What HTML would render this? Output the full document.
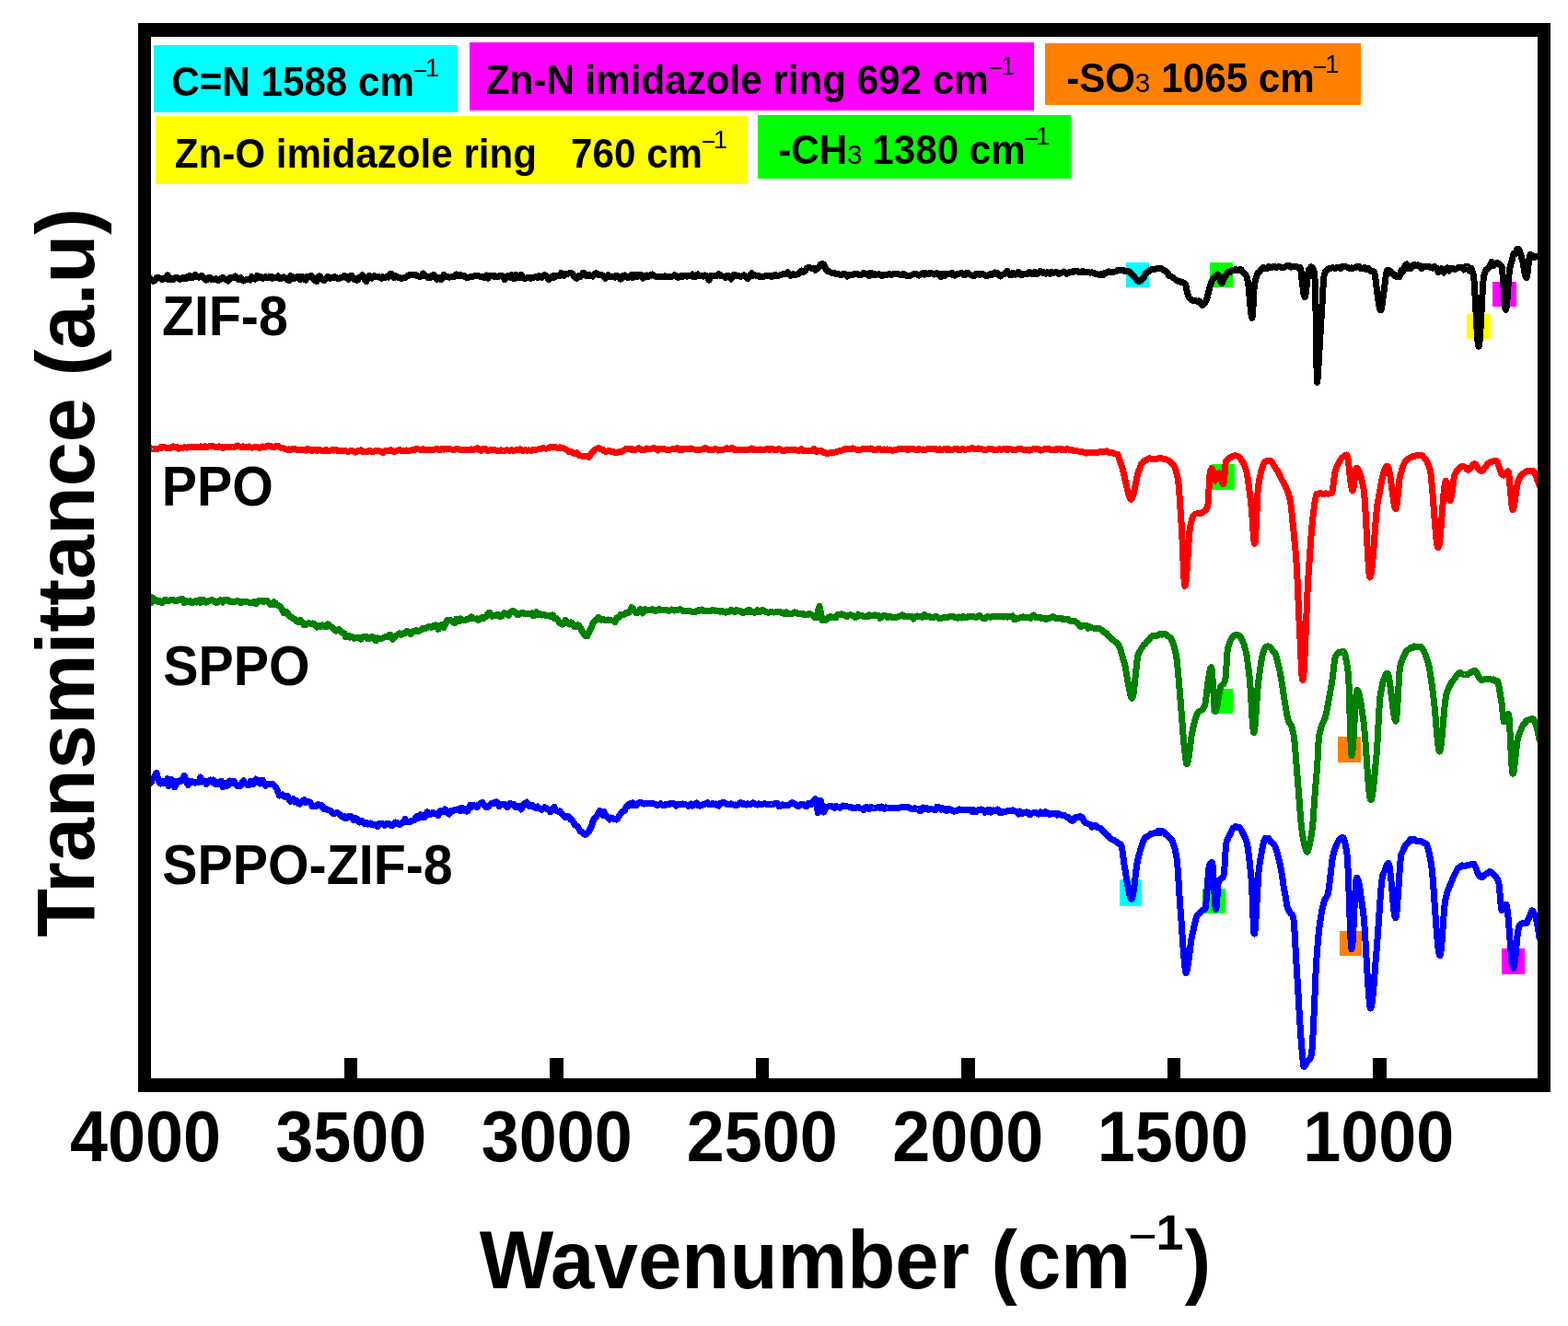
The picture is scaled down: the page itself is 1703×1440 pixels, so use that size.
<!DOCTYPE html>
<html><head><meta charset="utf-8"><title>FTIR spectra</title>
<style>
html,body{margin:0;padding:0;background:#fff;}
body{width:1703px;height:1440px;overflow:hidden;}
svg{display:block;}
rect{shape-rendering:crispEdges;}
text{font-family:'Liberation Sans', sans-serif;font-weight:bold;fill:#000;}
.sup{font-weight:normal;}
</style></head><body>
<svg width="1703" height="1440" viewBox="0 0 1703 1440">
<rect width="1703" height="1440" fill="#fff"/>
<defs><clipPath id="pa"><rect x="164" y="40" width="1506" height="1131"/></clipPath></defs>
<!-- legend boxes -->
<rect x="167" y="49" width="330" height="73" fill="#00FFFF"/>
<rect x="510" y="46" width="613" height="74" fill="#FF00FF"/>
<rect x="1135" y="47" width="343" height="67" fill="#FF8000"/>
<rect x="169" y="126" width="643" height="74" fill="#FFFF00"/>
<rect x="823" y="125" width="340" height="69" fill="#00FF00"/>
<text transform="translate(186.31,104.00) scale(0.9370,1)" font-size="45">C=N 1588 cm</text><text transform="translate(448.65,85.79) scale(1.0000,1)" font-size="27.0" style="font-weight:normal">&#8722;</text><text transform="translate(462.05,82.90) scale(1.0000,1)" font-size="27.3" style="font-weight:normal">1</text><text transform="translate(527.84,101.90) scale(0.9370,1)" font-size="45">Zn-N imidazole ring 692 cm</text><text transform="translate(1073.65,82.84) scale(1.0000,1)" font-size="27.0" style="font-weight:normal">&#8722;</text><text transform="translate(1087.05,80.90) scale(1.0000,1)" font-size="27.3" style="font-weight:normal">1</text><text transform="translate(1158.21,99.80) scale(0.9370,1)" font-size="45">-SO</text><text transform="translate(1232.79,99.60) scale(1.0000,1)" font-size="29.7" style="font-weight:normal">3</text><text transform="translate(1261.36,99.80) scale(0.9370,1)" font-size="45">1065 cm</text><text transform="translate(1425.65,81.84) scale(1.0000,1)" font-size="27.0" style="font-weight:normal">&#8722;</text><text transform="translate(1439.15,78.90) scale(1.0000,1)" font-size="27.3" style="font-weight:normal">1</text><text transform="translate(189.64,182.00) scale(0.9370,1)" font-size="45">Zn-O imidazole ring</text><text transform="translate(620.11,181.80) scale(0.9370,1)" font-size="45">760 cm</text><text transform="translate(761.65,162.69) scale(1.0000,1)" font-size="27.0" style="font-weight:normal">&#8722;</text><text transform="translate(775.05,160.80) scale(1.0000,1)" font-size="27.3" style="font-weight:normal">1</text><text transform="translate(845.31,177.90) scale(0.9370,1)" font-size="45">-CH</text><text transform="translate(919.89,177.60) scale(1.0000,1)" font-size="29.7" style="font-weight:normal">3</text><text transform="translate(947.36,177.90) scale(0.9370,1)" font-size="45">1380 cm</text><text transform="translate(1112.65,159.94) scale(1.0000,1)" font-size="27.0" style="font-weight:normal">&#8722;</text><text transform="translate(1125.05,156.80) scale(1.0000,1)" font-size="27.3" style="font-weight:normal">1</text>
<!-- markers -->
<rect x="1223" y="285" width="25" height="27" fill="#00FFFF"/><rect x="1314" y="285" width="25" height="27" fill="#00FF00"/><rect x="1593" y="341" width="26" height="27" fill="#FFFF00"/><rect x="1621" y="306" width="26" height="27" fill="#FF00FF"/><rect x="1316" y="504" width="25" height="28" fill="#00FF00"/><rect x="1315" y="748" width="24" height="27" fill="#00FF00"/><rect x="1453" y="800" width="25" height="28" fill="#FF8000"/><rect x="1216" y="955" width="24" height="29" fill="#00FFFF"/><rect x="1306" y="965" width="25" height="27" fill="#00FF00"/><rect x="1455" y="1011" width="24" height="27" fill="#FF8000"/><rect x="1631" y="1030" width="25" height="28" fill="#FF00FF"/>
<!-- curves -->
<g clip-path="url(#pa)" shape-rendering="crispEdges" fill="none" stroke-width="7" stroke-linejoin="round" stroke-linecap="round">
<polyline stroke="#000000" points="164.0,303.1 165.5,304.9 167.0,305.3 168.5,304.3 170.0,301.8 171.5,302.0 173.0,301.8 174.5,302.1 176.0,303.6 177.5,302.6 179.0,303.0 180.5,302.5 182.0,298.8 183.5,303.6 185.0,303.6 186.5,302.4 188.0,303.4 189.5,302.2 191.0,301.6 192.5,301.7 194.0,302.9 195.5,303.4 197.0,302.6 198.5,301.6 200.0,301.7 201.5,302.9 203.0,301.8 204.5,300.1 206.0,299.2 207.5,301.9 209.0,301.8 210.5,300.2 212.0,298.5 213.5,300.1 215.0,301.0 216.5,301.0 218.0,300.0 219.5,299.6 221.0,301.0 222.5,302.9 224.0,304.2 225.5,302.6 227.0,301.6 228.5,301.7 230.0,303.4 231.5,303.9 233.0,303.1 234.5,302.6 236.0,303.8 237.5,304.6 239.0,303.7 240.5,302.2 242.0,301.4 243.5,303.1 245.0,303.5 246.5,303.9 248.0,305.1 249.5,301.7 251.0,301.1 252.5,301.6 254.0,301.4 255.5,300.1 257.0,301.4 258.5,303.3 260.0,303.8 261.5,301.9 263.0,303.3 264.5,305.0 266.0,304.1 267.5,303.7 269.0,303.3 270.5,303.3 272.0,304.0 273.5,300.6 275.0,301.3 276.5,303.1 278.0,303.0 279.5,299.5 281.0,300.3 282.5,301.9 284.0,301.0 285.5,302.4 287.0,301.7 288.5,300.6 290.0,301.2 291.5,301.6 293.0,300.6 294.5,300.1 296.0,302.2 297.5,301.1 299.0,301.4 300.5,301.5 302.0,300.0 303.5,302.3 305.0,302.6 306.5,301.8 308.0,300.7 309.5,301.9 311.0,302.9 312.5,303.8 314.0,304.6 315.5,299.8 317.0,300.6 318.5,302.8 320.0,302.2 321.5,301.5 323.0,300.4 324.5,300.6 326.0,303.9 327.5,300.4 329.0,301.0 330.5,303.1 332.0,304.2 333.5,300.1 335.0,300.0 336.5,300.8 338.0,299.4 339.5,301.6 341.0,303.6 342.5,305.1 344.0,305.8 345.5,300.4 347.0,299.8 348.5,301.5 350.0,303.3 351.5,304.6 353.0,303.9 354.5,302.2 356.0,300.6 357.5,302.0 359.0,302.2 360.5,301.8 362.0,301.5 363.5,300.7 365.0,301.5 366.5,302.5 368.0,302.4 369.5,301.8 371.0,301.4 372.5,300.8 374.0,299.2 375.5,300.3 377.0,302.3 378.5,303.2 380.0,301.1 381.5,299.3 383.0,301.3 384.5,303.5 386.0,302.3 387.5,304.6 389.0,303.3 390.5,301.1 392.0,300.3 393.5,298.9 395.0,301.0 396.5,304.2 398.0,305.9 399.5,301.1 401.0,299.6 402.5,300.3 404.0,302.0 405.5,300.0 407.0,299.8 408.5,300.3 410.0,300.1 411.5,300.8 413.0,301.9 414.5,302.2 416.0,300.7 417.5,301.9 419.0,301.0 420.5,300.0 422.0,301.1 423.5,297.5 425.0,297.0 426.5,298.6 428.0,301.8 429.5,299.8 431.0,300.2 432.5,301.3 434.0,301.2 435.5,302.3 437.0,302.1 438.5,301.7 440.0,302.0 441.5,300.4 443.0,299.3 444.5,298.7 446.0,298.6 447.5,299.0 449.0,298.5 450.5,298.1 452.0,299.0 453.5,299.6 455.0,300.2 456.5,300.2 458.0,299.4 459.5,297.1 461.0,298.1 462.5,300.0 464.0,300.4 465.5,301.7 467.0,301.6 468.5,300.5 470.0,298.8 471.5,298.7 473.0,301.2 474.5,303.2 476.0,301.4 477.5,303.0 479.0,303.8 480.5,302.6 482.0,298.4 483.5,300.2 485.0,300.8 486.5,300.9 488.0,301.1 489.5,301.0 491.0,300.7 492.5,300.4 494.0,300.3 495.5,297.9 497.0,298.4 498.5,299.4 500.0,298.6 501.5,299.8 503.0,299.7 504.5,299.6 506.0,301.2 507.5,301.5 509.0,301.1 510.5,300.7 512.0,300.7 513.5,300.4 515.0,299.8 516.5,299.5 518.0,299.9 519.5,299.5 521.0,300.2 522.5,300.9 524.0,300.4 525.5,301.2 527.0,299.7 528.5,299.0 530.0,302.2 531.5,299.9 533.0,299.2 534.5,299.5 536.0,300.3 537.5,299.8 539.0,300.5 540.5,300.9 542.0,299.7 543.5,299.0 545.0,299.0 546.5,300.3 548.0,303.4 549.5,301.6 551.0,299.9 552.5,299.3 554.0,301.0 555.5,298.8 557.0,301.2 558.5,302.8 560.0,298.1 561.5,301.0 563.0,302.0 564.5,301.1 566.0,298.2 567.5,300.7 569.0,302.2 570.5,302.5 572.0,301.8 573.5,301.4 575.0,302.0 576.5,302.2 578.0,301.0 579.5,301.3 581.0,300.9 582.5,300.7 584.0,301.8 585.5,299.5 587.0,300.3 588.5,301.3 590.0,299.4 591.5,298.5 593.0,299.6 594.5,301.5 596.0,303.4 597.5,302.3 599.0,300.5 600.5,299.6 602.0,301.3 603.5,299.6 605.0,299.3 606.5,299.6 608.0,299.9 609.5,296.4 611.0,297.6 612.5,299.3 614.0,297.5 615.5,298.0 617.0,297.3 618.5,296.5 620.0,296.4 621.5,297.2 623.0,299.1 624.5,301.2 626.0,302.3 627.5,299.9 629.0,300.1 630.5,300.5 632.0,298.6 633.5,296.2 635.0,297.3 636.5,299.4 638.0,299.9 639.5,298.6 641.0,298.9 642.5,299.7 644.0,300.1 645.5,298.1 647.0,296.8 648.5,296.8 650.0,298.6 651.5,298.7 653.0,298.5 654.5,299.1 656.0,301.0 657.5,302.1 659.0,300.4 660.5,298.9 662.0,300.5 663.5,300.9 665.0,300.8 666.5,300.8 668.0,301.3 669.5,299.3 671.0,299.7 672.5,301.4 674.0,303.2 675.5,301.5 677.0,299.6 678.5,298.9 680.0,300.7 681.5,301.6 683.0,301.1 684.5,299.8 686.0,298.5 687.5,301.6 689.0,299.9 690.5,298.2 692.0,300.7 693.5,300.0 695.0,298.6 696.5,298.7 698.0,302.1 699.5,300.7 701.0,299.4 702.5,299.0 704.0,300.6 705.5,299.7 707.0,298.5 708.5,298.0 710.0,299.1 711.5,300.0 713.0,300.5 714.5,300.6 716.0,300.2 717.5,300.1 719.0,300.3 720.5,300.4 722.0,299.7 723.5,301.0 725.0,300.8 726.5,300.2 728.0,300.3 729.5,300.6 731.0,299.7 732.5,298.8 734.0,299.1 735.5,301.1 737.0,301.1 738.5,300.2 740.0,299.6 741.5,300.2 743.0,299.9 744.5,299.6 746.0,300.3 747.5,299.4 749.0,299.7 750.5,299.7 752.0,298.0 753.5,300.7 755.0,300.4 756.5,299.0 758.0,298.0 759.5,299.2 761.0,299.5 762.5,299.6 764.0,300.1 765.5,298.9 767.0,299.4 768.5,301.3 770.0,304.2 771.5,299.8 773.0,299.3 774.5,300.0 776.0,299.4 777.5,299.9 779.0,298.8 780.5,297.8 782.0,298.4 783.5,299.8 785.0,300.0 786.5,300.2 788.0,301.7 789.5,299.5 791.0,299.4 792.5,300.7 794.0,303.1 795.5,299.8 797.0,298.6 798.5,298.8 800.0,299.5 801.5,299.5 803.0,300.0 804.5,300.3 806.0,299.7 807.5,298.9 809.0,299.1 810.5,300.4 812.0,302.6 813.5,301.4 815.0,298.5 816.5,296.8 818.0,299.2 819.5,298.5 821.0,299.2 822.5,299.8 824.0,299.1 825.5,300.9 827.0,300.9 828.5,300.3 830.0,300.2 831.5,299.6 833.0,299.2 834.5,299.2 836.0,299.5 837.5,300.3 839.0,300.1 840.5,299.4 842.0,298.5 843.5,300.0 845.0,299.8 846.5,299.0 848.0,298.7 849.5,298.0 851.0,297.8 852.5,297.8 854.0,297.7 855.5,295.6 857.0,297.2 858.5,299.2 860.0,298.6 861.5,297.7 863.0,298.1 864.5,298.4 866.0,297.7 867.5,297.3 869.0,295.3 870.5,294.0 872.0,295.7 873.5,295.0 875.0,293.1 876.5,291.2 878.0,290.2 879.5,290.8 881.0,291.2 882.5,291.4 884.0,291.4 885.5,293.2 887.0,292.3 888.5,290.8 890.0,289.8 891.5,287.0 893.0,286.1 894.5,287.3 896.0,289.1 897.5,293.6 899.0,294.4 900.5,294.6 902.0,295.9 903.5,296.4 905.0,296.5 906.5,296.6 908.0,297.4 909.5,297.3 911.0,297.9 912.5,298.5 914.0,298.4 915.5,297.6 917.0,297.3 918.5,298.0 920.0,300.1 921.5,298.4 923.0,298.5 924.5,299.0 926.0,298.5 927.5,297.6 929.0,297.2 930.5,297.4 932.0,298.1 933.5,298.3 935.0,298.5 936.5,298.2 938.0,296.5 939.5,297.1 941.0,297.6 942.5,298.4 944.0,299.9 945.5,296.4 947.0,296.8 948.5,298.2 950.0,297.4 951.5,298.2 953.0,298.0 954.5,297.7 956.0,298.4 957.5,299.5 959.0,299.2 960.5,298.4 962.0,298.5 963.5,298.5 965.0,297.8 966.5,297.5 968.0,298.7 969.5,298.0 971.0,297.4 972.5,297.3 974.0,298.0 975.5,297.8 977.0,298.3 978.5,298.7 980.0,297.9 981.5,297.5 983.0,298.6 984.5,299.6 986.0,299.2 987.5,299.4 989.0,299.1 990.5,298.5 992.0,297.9 993.5,297.6 995.0,297.6 996.5,298.0 998.0,299.1 999.5,298.4 1001.0,297.2 1002.5,296.7 1004.0,298.0 1005.5,296.7 1007.0,297.2 1008.5,297.8 1010.0,296.6 1011.5,296.5 1013.0,297.3 1014.5,298.1 1016.0,297.9 1017.5,296.5 1019.0,297.5 1020.5,299.3 1022.0,300.6 1023.5,297.3 1025.0,298.2 1026.5,299.4 1028.0,297.2 1029.5,297.3 1031.0,297.6 1032.5,297.4 1034.0,296.3 1035.5,298.7 1037.0,299.1 1038.5,298.2 1040.0,297.1 1041.5,297.5 1043.0,296.9 1044.5,296.5 1046.0,297.6 1047.5,298.7 1049.0,297.5 1050.5,296.3 1052.0,297.4 1053.5,298.0 1055.0,298.7 1056.5,299.3 1058.0,299.6 1059.5,297.9 1061.0,297.2 1062.5,297.4 1064.0,298.4 1065.5,297.7 1067.0,297.5 1068.5,297.9 1070.0,299.1 1071.5,299.7 1073.0,299.0 1074.5,298.0 1076.0,297.5 1077.5,298.2 1079.0,296.9 1080.5,296.0 1082.0,297.7 1083.5,296.7 1085.0,298.4 1086.5,300.0 1088.0,298.5 1089.5,297.9 1091.0,297.5 1092.5,296.6 1094.0,294.5 1095.5,297.4 1097.0,298.9 1098.5,298.7 1100.0,296.5 1101.5,297.8 1103.0,298.2 1104.5,297.5 1106.0,295.4 1107.5,297.6 1109.0,298.6 1110.5,298.5 1112.0,297.4 1113.5,297.1 1115.0,297.5 1116.5,297.3 1118.0,295.2 1119.5,296.6 1121.0,297.7 1122.5,297.5 1124.0,295.4 1125.5,297.4 1127.0,297.2 1128.5,295.8 1130.0,294.3 1131.5,296.0 1133.0,296.0 1134.5,295.9 1136.0,297.0 1137.5,295.6 1139.0,296.5 1140.5,297.2 1142.0,295.6 1143.5,296.5 1145.0,296.2 1146.5,295.7 1148.0,295.9 1149.5,297.2 1151.0,297.1 1152.5,296.3 1154.0,295.7 1155.5,294.9 1157.0,296.0 1158.5,297.3 1160.0,296.8 1161.5,295.8 1163.0,295.8 1164.5,295.7 1166.0,294.4 1167.5,294.3 1169.0,294.4 1170.5,294.7 1172.0,295.7 1173.5,295.6 1175.0,295.1 1176.0,294.6 1176.5,294.8 1177.0,295.0 1177.5,295.3 1178.0,295.5 1178.5,295.5 1179.0,295.5 1179.5,295.5 1180.0,295.5 1180.5,295.4 1181.0,295.3 1181.5,295.3 1182.0,295.2 1182.5,295.5 1183.0,295.7 1183.5,295.9 1184.0,296.1 1184.5,296.1 1185.0,296.0 1185.5,295.9 1186.0,295.9 1186.5,296.1 1187.0,296.2 1187.5,296.4 1188.0,296.6 1188.5,296.8 1189.0,297.1 1189.5,297.3 1190.0,297.5 1190.5,297.6 1191.0,297.6 1191.5,297.6 1192.0,297.7 1192.5,297.9 1193.0,298.1 1193.5,298.3 1194.0,298.4 1194.5,298.2 1195.0,297.9 1195.5,297.5 1196.0,297.2 1196.5,297.5 1197.0,297.9 1197.5,298.2 1198.0,298.5 1198.5,298.0 1199.0,297.5 1199.5,297.1 1200.0,296.6 1200.5,296.5 1201.0,296.4 1201.5,296.3 1202.0,296.3 1202.5,295.9 1203.0,295.5 1203.5,295.2 1204.0,294.8 1204.5,294.9 1205.0,295.1 1205.5,295.2 1206.0,295.4 1206.5,295.4 1207.0,295.3 1207.5,295.3 1208.0,295.4 1208.5,295.3 1209.0,295.2 1209.5,295.1 1210.0,295.1 1210.5,295.0 1211.0,295.0 1211.5,294.9 1212.0,294.8 1212.5,294.5 1213.0,294.1 1213.5,293.7 1214.0,293.3 1214.5,293.4 1215.0,293.5 1215.5,293.6 1216.0,293.7 1216.5,293.7 1217.0,293.7 1217.5,293.8 1218.0,293.8 1218.5,293.7 1219.0,293.6 1219.5,293.6 1220.0,293.5 1220.5,293.8 1221.0,294.1 1221.5,294.4 1222.0,294.7 1222.5,294.5 1223.0,294.4 1223.5,294.3 1224.0,294.1 1224.5,294.1 1225.0,294.2 1225.5,294.4 1226.0,294.7 1226.5,295.1 1227.0,295.6 1227.5,296.2 1228.0,296.8 1228.5,297.1 1229.0,297.5 1229.5,297.9 1230.0,298.3 1230.5,298.9 1231.0,299.6 1231.5,300.2 1232.0,300.8 1232.5,301.4 1233.0,302.0 1233.5,302.5 1234.0,303.0 1234.5,303.6 1235.0,304.2 1235.5,304.7 1236.0,305.1 1236.5,305.2 1237.0,305.3 1237.5,305.2 1238.0,305.0 1238.5,304.8 1239.0,304.5 1239.5,304.1 1240.0,303.7 1240.5,303.3 1241.0,302.8 1241.5,302.2 1242.0,301.7 1242.5,300.7 1243.0,299.7 1243.5,298.6 1244.0,297.6 1244.5,297.1 1245.0,296.6 1245.5,296.2 1246.0,295.8 1246.5,295.5 1247.0,295.2 1247.5,295.0 1248.0,294.8 1248.5,294.3 1249.0,293.8 1249.5,293.3 1250.0,292.8 1250.5,292.7 1251.0,292.6 1251.5,292.4 1252.0,292.3 1252.5,292.3 1253.0,292.3 1253.5,292.4 1254.0,292.4 1254.5,292.2 1255.0,292.1 1255.5,292.0 1256.0,291.9 1256.5,291.8 1257.0,291.7 1257.5,291.7 1258.0,291.6 1258.5,291.5 1259.0,291.4 1259.5,291.4 1260.0,291.3 1260.5,291.5 1261.0,291.6 1261.5,291.8 1262.0,292.0 1262.5,292.5 1263.0,292.9 1263.5,293.4 1264.0,293.9 1264.5,294.0 1265.0,294.1 1265.5,294.3 1266.0,294.4 1266.5,294.8 1267.0,295.3 1267.5,295.9 1268.0,296.5 1268.5,297.2 1269.0,298.0 1269.5,298.7 1270.0,299.4 1270.5,299.7 1271.0,299.9 1271.5,300.0 1272.0,300.2 1272.5,300.5 1273.0,300.8 1273.5,301.1 1274.0,301.4 1274.5,301.8 1275.0,302.2 1275.5,302.6 1276.0,303.0 1276.5,303.4 1277.0,303.8 1277.5,304.2 1278.0,304.6 1278.5,304.8 1279.0,305.1 1279.5,305.2 1280.0,305.4 1280.5,305.6 1281.0,305.7 1281.5,305.8 1282.0,305.9 1282.5,306.2 1283.0,306.4 1283.5,306.7 1284.0,307.0 1284.5,307.0 1285.0,306.9 1285.5,307.0 1286.0,307.0 1286.5,307.6 1287.0,308.2 1287.5,308.9 1288.0,310.3 1288.5,312.8 1289.0,315.6 1289.5,317.9 1290.0,319.9 1290.5,321.5 1291.0,322.8 1291.5,323.6 1292.0,324.0 1292.5,324.5 1293.0,324.8 1293.5,325.2 1294.0,325.4 1294.5,325.7 1295.0,326.0 1295.5,326.2 1296.0,326.3 1296.5,326.4 1297.0,326.5 1297.5,326.6 1298.0,326.6 1298.5,326.8 1299.0,326.9 1299.5,327.1 1300.0,327.2 1300.5,327.1 1301.0,327.0 1301.5,326.9 1302.0,326.9 1302.5,327.3 1303.0,327.9 1303.5,328.6 1304.0,329.3 1304.5,330.1 1305.0,330.8 1305.5,331.2 1306.0,331.5 1306.5,331.1 1307.0,330.5 1307.5,329.8 1308.0,329.1 1308.5,328.7 1309.0,328.3 1309.5,327.7 1310.0,326.8 1310.5,325.2 1311.0,323.4 1311.5,321.5 1312.0,319.6 1312.5,317.6 1313.0,315.8 1313.5,313.9 1314.0,311.8 1314.5,310.1 1315.0,308.4 1315.5,306.9 1316.0,305.7 1316.5,304.6 1317.0,303.6 1317.5,302.8 1318.0,302.0 1318.5,301.6 1319.0,301.4 1319.5,301.1 1320.0,300.9 1320.5,300.2 1321.0,299.5 1321.5,298.8 1322.0,298.1 1322.5,298.0 1323.0,298.2 1323.5,298.4 1324.0,299.3 1324.5,300.7 1325.0,302.5 1325.5,304.5 1326.0,306.4 1326.5,307.4 1327.0,307.6 1327.5,306.8 1328.0,305.4 1328.5,304.4 1329.0,303.2 1329.5,302.0 1330.0,301.1 1330.5,300.2 1331.0,299.6 1331.5,299.1 1332.0,298.6 1332.5,297.7 1333.0,296.9 1333.5,296.2 1334.0,295.5 1334.5,295.5 1335.0,295.5 1335.5,295.5 1336.0,295.6 1336.5,294.9 1337.0,294.3 1337.5,293.6 1338.0,293.0 1338.5,293.2 1339.0,293.3 1339.5,293.5 1340.0,293.7 1340.5,293.3 1341.0,292.9 1341.5,292.6 1342.0,292.3 1342.5,292.6 1343.0,293.0 1343.5,293.3 1344.0,293.7 1344.5,293.4 1345.0,293.2 1345.5,292.9 1346.0,292.7 1346.5,292.7 1347.0,292.7 1347.5,292.7 1348.0,292.8 1348.5,293.4 1349.0,294.0 1349.5,294.7 1350.0,295.4 1350.5,295.9 1351.0,296.5 1351.5,297.0 1352.0,297.7 1352.5,298.0 1353.0,298.5 1353.5,299.3 1354.0,300.3 1354.5,302.1 1355.0,304.1 1355.5,306.9 1356.0,311.1 1356.5,316.0 1357.0,321.4 1357.5,327.1 1358.0,332.7 1358.5,337.7 1359.0,341.7 1359.5,344.4 1360.0,345.3 1360.5,342.0 1361.0,333.7 1361.5,323.3 1362.0,314.0 1362.5,308.5 1363.0,306.2 1363.5,304.3 1364.0,302.8 1364.5,301.0 1365.0,299.4 1365.5,298.0 1366.0,296.8 1366.5,296.3 1367.0,295.8 1367.5,295.4 1368.0,295.1 1368.5,294.5 1369.0,293.9 1369.5,293.3 1370.0,292.9 1370.5,292.2 1371.0,291.6 1371.5,291.0 1372.0,290.5 1372.5,290.7 1373.0,291.0 1373.5,291.3 1374.0,291.6 1374.5,291.5 1375.0,291.5 1375.5,291.4 1376.0,291.4 1376.5,290.9 1377.0,290.4 1377.5,289.9 1378.0,289.4 1378.5,289.8 1379.0,290.2 1379.5,290.6 1380.0,290.9 1380.5,290.7 1381.0,290.4 1381.5,290.1 1382.0,289.8 1382.5,289.8 1383.0,289.7 1383.5,289.7 1384.0,289.6 1384.5,289.8 1385.0,290.1 1385.5,290.3 1386.0,290.5 1386.5,290.3 1387.0,290.1 1387.5,289.9 1388.0,289.7 1388.5,289.7 1389.0,289.7 1389.5,289.7 1390.0,289.7 1390.5,289.9 1391.0,290.0 1391.5,290.2 1392.0,290.4 1392.5,290.3 1393.0,290.3 1393.5,290.3 1394.0,290.2 1394.5,290.1 1395.0,290.1 1395.5,290.0 1396.0,290.0 1396.5,289.6 1397.0,289.3 1397.5,288.9 1398.0,288.6 1398.5,288.5 1399.0,288.5 1399.5,288.5 1400.0,288.5 1400.5,288.9 1401.0,289.3 1401.5,289.7 1402.0,290.1 1402.5,289.8 1403.0,289.5 1403.5,289.3 1404.0,289.0 1404.5,289.2 1405.0,289.4 1405.5,289.6 1406.0,289.8 1406.5,289.7 1407.0,289.6 1407.5,289.5 1408.0,289.4 1408.5,289.6 1409.0,289.9 1409.5,290.1 1410.0,290.4 1410.5,290.3 1411.0,290.3 1411.5,290.3 1412.0,290.2 1412.5,291.7 1413.0,294.6 1413.5,298.7 1414.0,303.5 1414.5,307.8 1415.0,312.1 1415.5,316.0 1416.0,319.1 1416.5,321.6 1417.0,322.7 1417.5,321.9 1418.0,319.8 1418.5,316.3 1419.0,312.2 1419.5,307.6 1420.0,303.0 1420.5,299.0 1421.0,295.6 1421.5,293.3 1422.0,292.3 1422.5,291.6 1423.0,291.0 1423.5,290.4 1424.0,289.8 1424.5,289.9 1425.0,290.1 1425.5,290.5 1426.0,291.4 1426.5,292.5 1427.0,294.0 1427.5,295.9 1428.0,303.1 1428.5,318.2 1429.0,337.8 1429.5,361.3 1430.0,399.6 1430.5,415.2 1431.0,412.2 1431.5,405.8 1432.0,397.5 1432.5,388.4 1433.0,380.0 1433.5,372.1 1434.0,363.7 1434.5,355.2 1435.0,346.6 1435.5,338.2 1436.0,330.1 1436.5,321.3 1437.0,312.1 1437.5,304.3 1438.0,299.8 1438.5,297.9 1439.0,296.4 1439.5,295.3 1440.0,294.4 1440.5,293.6 1441.0,293.1 1441.5,292.8 1442.0,292.4 1442.5,292.1 1443.0,291.8 1443.5,291.5 1444.0,291.2 1444.5,291.2 1445.0,291.1 1445.5,291.1 1446.0,291.0 1446.5,291.0 1447.0,290.9 1447.5,290.9 1448.0,290.9 1448.5,291.1 1449.0,291.3 1449.5,291.6 1450.0,291.9 1450.5,291.4 1451.0,291.0 1451.5,290.6 1452.0,290.2 1452.5,290.3 1453.0,290.4 1453.5,290.6 1454.0,290.7 1454.5,290.9 1455.0,291.0 1455.5,291.2 1456.0,291.4 1456.5,290.8 1457.0,290.3 1457.5,289.8 1458.0,289.3 1458.5,289.3 1459.0,289.4 1459.5,289.4 1460.0,289.5 1460.5,289.5 1461.0,289.6 1461.5,289.7 1462.0,289.8 1462.5,289.9 1463.0,290.1 1463.5,290.3 1464.0,290.4 1464.5,290.8 1465.0,291.2 1465.5,291.6 1466.0,292.0 1466.5,291.7 1467.0,291.3 1467.5,291.0 1468.0,290.7 1468.5,290.9 1469.0,291.0 1469.5,291.1 1470.0,291.2 1470.5,291.0 1471.0,290.8 1471.5,290.6 1472.0,290.4 1472.5,290.0 1473.0,289.7 1473.5,289.4 1474.0,289.0 1474.5,289.1 1475.0,289.1 1475.5,289.2 1476.0,289.2 1476.5,289.7 1477.0,290.3 1477.5,290.8 1478.0,291.4 1478.5,291.3 1479.0,291.3 1479.5,291.2 1480.0,291.2 1480.5,291.0 1481.0,290.9 1481.5,290.8 1482.0,290.6 1482.5,291.1 1483.0,291.6 1483.5,292.1 1484.0,292.6 1484.5,292.3 1485.0,292.1 1485.5,291.8 1486.0,291.6 1486.5,292.2 1487.0,292.7 1487.5,293.3 1488.0,293.9 1488.5,294.2 1489.0,294.4 1489.5,294.7 1490.0,295.0 1490.5,294.9 1491.0,294.8 1491.5,294.7 1492.0,294.7 1492.5,295.8 1493.0,297.7 1493.5,300.2 1494.0,303.3 1494.5,307.2 1495.0,311.4 1495.5,315.7 1496.0,320.0 1496.5,323.6 1497.0,326.9 1497.5,329.8 1498.0,332.2 1498.5,334.6 1499.0,336.1 1499.5,336.7 1500.0,336.3 1500.5,334.3 1501.0,331.5 1501.5,328.1 1502.0,324.2 1502.5,320.5 1503.0,316.6 1503.5,312.7 1504.0,308.9 1504.5,304.8 1505.0,301.2 1505.5,298.1 1506.0,295.7 1506.5,294.1 1507.0,293.5 1507.5,293.5 1508.0,293.5 1508.5,293.7 1509.0,293.9 1509.5,294.2 1510.0,294.5 1510.5,295.1 1511.0,295.7 1511.5,296.4 1512.0,297.1 1512.5,297.3 1513.0,297.5 1513.5,297.7 1514.0,297.8 1514.5,298.5 1515.0,299.2 1515.5,299.8 1516.0,300.3 1516.5,300.4 1517.0,300.5 1517.5,300.4 1518.0,300.3 1518.5,300.5 1519.0,300.6 1519.5,300.6 1520.0,300.4 1520.5,298.7 1521.0,297.0 1521.5,295.2 1522.0,293.4 1522.5,293.8 1523.0,294.2 1523.5,294.6 1524.0,295.0 1524.5,293.3 1525.0,291.7 1525.5,290.2 1526.0,288.8 1526.5,288.2 1527.0,287.7 1527.5,287.3 1528.0,287.0 1528.5,288.1 1529.0,289.2 1529.5,290.4 1530.0,291.5 1530.5,291.6 1531.0,291.7 1531.5,291.9 1532.0,292.0 1532.5,291.2 1533.0,290.3 1533.5,289.5 1534.0,288.7 1534.5,288.3 1535.0,288.0 1535.5,287.7 1536.0,287.4 1536.5,287.8 1537.0,288.2 1537.5,288.6 1538.0,289.0 1538.5,288.7 1539.0,288.4 1539.5,288.1 1540.0,287.8 1540.5,287.9 1541.0,288.1 1541.5,288.3 1542.0,288.4 1542.5,289.3 1543.0,290.1 1543.5,291.0 1544.0,291.8 1544.5,291.3 1545.0,290.8 1545.5,290.2 1546.0,289.7 1546.5,289.6 1547.0,289.5 1547.5,289.4 1548.0,289.3 1548.5,289.4 1549.0,289.4 1549.5,289.5 1550.0,289.6 1550.5,289.4 1551.0,289.3 1551.5,289.1 1552.0,289.0 1552.5,289.4 1553.0,289.9 1553.5,290.4 1554.0,290.8 1554.5,290.9 1555.0,291.0 1555.5,291.1 1556.0,291.2 1556.5,290.8 1557.0,290.3 1557.5,289.9 1558.0,289.4 1558.5,289.7 1559.0,290.1 1559.5,290.4 1560.0,290.8 1560.5,291.9 1561.0,293.1 1561.5,294.2 1562.0,295.4 1562.5,294.6 1563.0,293.9 1563.5,293.1 1564.0,292.3 1564.5,292.2 1565.0,292.0 1565.5,291.8 1566.0,291.7 1566.5,292.8 1567.0,293.9 1567.5,295.0 1568.0,296.1 1568.5,295.2 1569.0,294.4 1569.5,293.5 1570.0,292.7 1570.5,292.2 1571.0,291.8 1571.5,291.3 1572.0,290.8 1572.5,291.6 1573.0,292.4 1573.5,293.2 1574.0,294.0 1574.5,293.3 1575.0,292.5 1575.5,291.8 1576.0,291.1 1576.5,291.2 1577.0,291.3 1577.5,291.5 1578.0,291.6 1578.5,291.9 1579.0,292.2 1579.5,292.5 1580.0,292.8 1580.5,292.6 1581.0,292.3 1581.5,292.0 1582.0,291.7 1582.5,291.4 1583.0,291.0 1583.5,290.7 1584.0,290.3 1584.5,290.3 1585.0,290.3 1585.5,290.4 1586.0,290.4 1586.5,290.3 1587.0,290.2 1587.5,290.1 1588.0,290.0 1588.5,290.7 1589.0,291.5 1589.5,292.2 1590.0,292.9 1590.5,292.0 1591.0,291.1 1591.5,290.2 1592.0,289.4 1592.5,289.4 1593.0,289.4 1593.5,289.5 1594.0,289.5 1594.5,290.7 1595.0,291.8 1595.5,293.0 1596.0,294.2 1596.5,293.3 1597.0,292.6 1597.5,292.0 1598.0,291.5 1598.5,292.9 1599.0,294.3 1599.5,295.9 1600.0,297.5 1600.5,300.1 1601.0,305.1 1601.5,312.0 1602.0,320.4 1602.5,329.5 1603.0,339.0 1603.5,348.4 1604.0,357.1 1604.5,364.8 1605.0,370.9 1605.5,374.8 1606.0,376.1 1606.5,374.9 1607.0,371.1 1607.5,365.0 1608.0,357.4 1608.5,348.4 1609.0,338.8 1609.5,329.1 1610.0,319.8 1610.5,311.8 1611.0,305.2 1611.5,300.5 1612.0,298.3 1612.5,296.9 1613.0,295.4 1613.5,294.1 1614.0,292.8 1614.5,292.4 1615.0,292.2 1615.5,291.9 1616.0,291.8 1616.5,291.2 1617.0,290.7 1617.5,290.3 1618.0,290.0 1618.5,288.5 1619.0,287.1 1619.5,285.7 1620.0,284.4 1620.5,285.3 1621.0,286.4 1621.5,287.5 1622.0,288.6 1622.5,288.0 1623.0,287.5 1623.5,286.9 1624.0,286.4 1624.5,286.1 1625.0,285.8 1625.5,285.6 1626.0,285.3 1626.5,285.5 1627.0,285.7 1627.5,285.9 1628.0,286.1 1628.5,286.7 1629.0,287.2 1629.5,287.8 1630.0,288.4 1630.5,288.4 1631.0,289.1 1631.5,292.4 1632.0,298.0 1632.5,304.7 1633.0,312.2 1633.5,319.7 1634.0,326.4 1634.5,332.3 1635.0,335.9 1635.5,336.6 1636.0,334.6 1636.5,330.3 1637.0,324.6 1637.5,318.0 1638.0,311.0 1638.5,304.2 1639.0,298.1 1639.5,293.4 1640.0,290.4 1640.5,288.5 1641.0,286.7 1641.5,284.9 1642.0,283.3 1642.5,281.2 1643.0,279.1 1643.5,277.2 1644.0,275.3 1644.5,275.2 1645.0,275.2 1645.5,275.3 1646.0,275.5 1646.5,274.0 1647.0,272.5 1647.5,271.2 1648.0,270.1 1648.5,270.1 1649.0,270.3 1649.5,270.8 1650.0,271.8 1650.5,272.9 1651.0,274.2 1651.5,275.8 1652.0,277.5 1652.5,279.3 1653.0,281.1 1653.5,282.8 1654.0,284.5 1654.5,287.4 1655.0,290.5 1655.5,293.7 1656.0,296.8 1656.5,298.8 1657.0,300.4 1657.5,301.4 1658.0,301.7 1658.5,300.2 1659.0,297.1 1659.5,293.0 1660.0,288.3 1660.5,283.9 1661.0,280.1 1661.5,277.4 1662.0,276.3 1662.5,276.5 1663.0,276.7 1663.5,276.9 1664.0,277.2 1664.5,277.8 1665.0,278.4 1665.5,279.1 1666.0,279.7 1666.5,279.4 1667.0,279.0 1667.5,278.6 1668.0,278.2 1668.5,278.3 1669.0,278.3 1669.5,278.4 1670.0,278.4 1670.5,278.2 1671.0,277.9 1671.5,277.7 1672.0,277.4"/>
<polyline stroke="#FF0000" points="164.0,487.0 165.5,487.5 167.0,487.5 168.5,487.3 170.0,487.2 171.5,487.6 173.0,486.8 174.5,485.8 176.0,486.1 177.5,485.6 179.0,485.9 180.5,486.4 182.0,487.0 183.5,486.4 185.0,486.3 186.5,486.1 188.0,484.7 189.5,485.8 191.0,485.7 192.5,485.8 194.0,487.1 195.5,486.6 197.0,486.5 198.5,486.3 200.0,485.7 201.5,486.0 203.0,486.1 204.5,485.9 206.0,485.4 207.5,485.3 209.0,485.3 210.5,485.4 212.0,485.1 213.5,485.1 215.0,485.1 216.5,485.1 218.0,484.9 219.5,485.6 221.0,485.1 222.5,484.6 224.0,485.9 225.5,485.1 227.0,484.9 228.5,484.7 230.0,484.3 231.5,484.9 233.0,485.1 234.5,485.1 236.0,485.3 237.5,484.9 239.0,485.0 240.5,485.5 242.0,486.4 243.5,485.6 245.0,485.0 246.5,485.0 248.0,485.8 249.5,485.2 251.0,485.2 252.5,485.5 254.0,485.5 255.5,485.0 257.0,484.2 258.5,484.0 260.0,484.8 261.5,485.3 263.0,485.1 264.5,484.9 266.0,485.3 267.5,485.6 269.0,485.2 270.5,484.9 272.0,485.9 273.5,486.1 275.0,486.0 276.5,485.8 278.0,485.8 279.5,485.8 281.0,486.2 282.5,486.2 284.0,485.1 285.5,485.0 287.0,485.2 288.5,485.2 290.0,484.4 291.5,484.0 293.0,484.1 294.5,484.6 296.0,485.4 297.5,485.5 299.0,485.0 300.5,484.4 302.0,484.5 303.5,485.5 305.0,486.1 306.5,486.4 308.0,486.8 309.5,487.4 311.0,487.9 312.5,488.2 314.0,487.8 315.5,488.2 317.0,487.8 318.5,487.2 320.0,487.3 321.5,488.1 323.0,488.5 324.5,488.7 326.0,488.8 327.5,488.8 329.0,488.9 330.5,489.0 332.0,489.1 333.5,487.8 335.0,487.8 336.5,488.4 338.0,489.1 339.5,489.2 341.0,488.5 342.5,488.3 344.0,489.8 345.5,488.9 347.0,488.8 348.5,489.0 350.0,489.3 351.5,489.6 353.0,488.9 354.5,488.6 356.0,490.0 357.5,489.5 359.0,489.1 360.5,488.9 362.0,489.2 363.5,488.2 365.0,488.5 366.5,489.2 368.0,489.7 369.5,489.2 371.0,489.2 372.5,489.4 374.0,489.5 375.5,489.7 377.0,490.1 378.5,490.3 380.0,489.7 381.5,489.6 383.0,489.9 384.5,490.5 386.0,491.3 387.5,490.0 389.0,489.9 390.5,489.9 392.0,488.8 393.5,490.3 395.0,490.6 396.5,490.5 398.0,490.9 399.5,490.2 401.0,489.6 402.5,489.6 404.0,490.6 405.5,490.5 407.0,489.9 408.5,489.3 410.0,489.0 411.5,490.0 413.0,490.1 414.5,490.4 416.0,491.8 417.5,490.1 419.0,489.6 420.5,489.6 422.0,489.8 423.5,489.0 425.0,488.9 426.5,489.6 428.0,490.9 429.5,489.9 431.0,489.4 432.5,489.0 434.0,488.6 435.5,489.5 437.0,489.8 438.5,489.7 440.0,489.4 441.5,489.0 443.0,489.1 444.5,489.3 446.0,489.2 447.5,488.6 449.0,488.8 450.5,488.7 452.0,487.2 453.5,487.6 455.0,488.0 456.5,488.3 458.0,488.4 459.5,487.7 461.0,488.0 462.5,488.6 464.0,489.0 465.5,488.6 467.0,488.4 468.5,488.4 470.0,488.6 471.5,488.4 473.0,487.8 474.5,487.4 476.0,487.9 477.5,488.6 479.0,488.1 480.5,487.4 482.0,488.1 483.5,487.8 485.0,487.6 486.5,487.4 488.0,487.3 489.5,487.9 491.0,488.2 492.5,488.3 494.0,488.3 495.5,487.4 497.0,487.5 498.5,488.0 500.0,488.4 501.5,488.7 503.0,488.8 504.5,488.7 506.0,488.8 507.5,489.0 509.0,488.9 510.5,488.6 512.0,487.7 513.5,488.2 515.0,488.1 516.5,487.6 518.0,486.7 519.5,487.1 521.0,488.6 522.5,489.4 524.0,487.7 525.5,487.1 527.0,487.6 528.5,488.5 530.0,489.7 531.5,488.9 533.0,488.8 534.5,488.8 536.0,488.5 537.5,488.6 539.0,489.1 540.5,489.5 542.0,489.3 543.5,488.9 545.0,489.1 546.5,489.5 548.0,489.6 549.5,488.9 551.0,488.9 552.5,489.1 554.0,489.1 555.5,488.6 557.0,489.1 558.5,489.5 560.0,488.8 561.5,488.6 563.0,488.2 564.5,487.9 566.0,488.1 567.5,489.6 569.0,489.1 570.5,488.5 572.0,489.3 573.5,488.9 575.0,489.0 576.5,489.2 578.0,489.1 579.5,488.2 581.0,488.0 582.5,488.0 584.0,488.0 585.5,487.7 587.0,487.4 588.5,487.1 590.0,486.7 591.5,487.0 593.0,487.1 594.5,487.0 596.0,486.4 597.5,485.6 599.0,485.6 600.5,485.8 602.0,485.6 603.5,485.8 605.0,486.3 606.5,486.6 608.0,485.9 609.5,486.4 611.0,486.6 612.5,487.0 614.0,487.9 615.5,488.4 617.0,489.8 618.5,490.9 620.0,490.9 621.5,491.0 623.0,492.2 624.5,492.9 626.0,491.7 627.5,493.4 629.0,494.4 630.5,494.9 632.0,495.2 633.5,495.2 635.0,495.4 636.5,495.7 638.0,495.7 639.5,496.3 641.0,494.4 642.5,491.9 644.0,490.7 645.5,489.2 647.0,487.7 648.5,487.0 650.0,486.4 651.5,487.5 653.0,487.8 654.5,488.3 656.0,489.5 657.5,490.2 659.0,490.2 660.5,489.8 662.0,489.1 663.5,490.3 665.0,490.5 666.5,490.6 668.0,491.4 669.5,491.8 671.0,491.2 672.5,490.6 674.0,491.0 675.5,490.3 677.0,489.4 678.5,488.5 680.0,487.3 681.5,487.6 683.0,487.2 684.5,487.1 686.0,488.4 687.5,487.9 689.0,488.2 690.5,488.5 692.0,487.9 693.5,486.7 695.0,487.2 696.5,488.2 698.0,488.4 699.5,488.7 701.0,487.9 702.5,487.0 704.0,487.1 705.5,487.6 707.0,487.4 708.5,486.9 710.0,486.7 711.5,486.9 713.0,488.2 714.5,489.0 716.0,487.3 717.5,487.1 719.0,487.2 720.5,487.5 722.0,487.7 723.5,488.4 725.0,488.5 726.5,488.3 728.0,488.2 729.5,487.9 731.0,487.8 732.5,487.7 734.0,487.3 735.5,486.8 737.0,487.9 738.5,488.7 740.0,487.4 741.5,488.2 743.0,488.0 744.5,487.5 746.0,487.7 747.5,487.6 749.0,487.2 750.5,487.0 752.0,487.7 753.5,487.9 755.0,488.2 756.5,488.3 758.0,488.1 759.5,488.4 761.0,488.2 762.5,487.9 764.0,487.8 765.5,486.8 767.0,486.9 768.5,487.8 770.0,488.9 771.5,488.1 773.0,488.1 774.5,488.2 776.0,487.7 777.5,487.5 779.0,488.3 780.5,489.0 782.0,488.1 783.5,488.7 785.0,488.6 786.5,488.1 788.0,487.7 789.5,486.7 791.0,487.2 792.5,487.7 794.0,486.8 795.5,486.5 797.0,487.6 798.5,488.8 800.0,488.5 801.5,488.5 803.0,488.3 804.5,488.0 806.0,488.0 807.5,488.3 809.0,488.3 810.5,488.2 812.0,488.1 813.5,488.5 815.0,487.5 816.5,487.0 818.0,488.8 819.5,488.0 821.0,488.3 822.5,488.8 824.0,489.0 825.5,488.0 827.0,488.2 828.5,488.8 830.0,488.8 831.5,488.0 833.0,487.9 834.5,488.0 836.0,488.4 837.5,487.2 839.0,487.4 840.5,488.2 842.0,488.5 843.5,488.2 845.0,487.7 846.5,487.5 848.0,488.2 849.5,489.2 851.0,489.5 852.5,489.2 854.0,488.5 855.5,488.1 857.0,488.3 858.5,488.6 860.0,488.7 861.5,488.3 863.0,488.3 864.5,488.7 866.0,489.2 867.5,489.4 869.0,488.3 870.5,487.7 872.0,489.5 873.5,489.1 875.0,489.4 876.5,489.5 878.0,489.0 879.5,489.2 881.0,489.8 882.5,489.5 884.0,487.3 885.5,490.0 887.0,490.6 888.5,490.0 890.0,489.3 891.5,489.2 893.0,490.4 894.5,491.5 896.0,491.0 897.5,492.3 899.0,492.4 900.5,492.1 902.0,491.7 903.5,492.1 905.0,491.6 906.5,491.1 908.0,490.9 909.5,490.5 911.0,489.9 912.5,489.3 914.0,489.2 915.5,488.9 917.0,487.9 918.5,487.2 920.0,487.8 921.5,487.9 923.0,487.8 924.5,487.5 926.0,486.9 927.5,487.4 929.0,487.9 930.5,488.2 932.0,488.1 933.5,488.8 935.0,488.3 936.5,487.6 938.0,487.7 939.5,487.6 941.0,487.7 942.5,487.7 944.0,487.6 945.5,486.9 947.0,487.5 948.5,488.4 950.0,488.7 951.5,488.8 953.0,488.0 954.5,487.4 956.0,487.9 957.5,488.9 959.0,488.6 960.5,488.0 962.0,488.2 963.5,488.0 965.0,488.3 966.5,488.7 968.0,488.7 969.5,489.4 971.0,489.0 972.5,488.3 974.0,488.3 975.5,487.4 977.0,487.4 978.5,487.7 980.0,487.5 981.5,487.7 983.0,487.4 984.5,487.5 986.0,488.9 987.5,487.7 989.0,487.7 990.5,487.9 992.0,487.1 993.5,488.0 995.0,488.7 996.5,488.7 998.0,487.4 999.5,488.0 1001.0,488.1 1002.5,488.0 1004.0,488.2 1005.5,488.3 1007.0,487.9 1008.5,487.6 1010.0,487.9 1011.5,487.7 1013.0,487.5 1014.5,487.4 1016.0,487.1 1017.5,488.3 1019.0,488.1 1020.5,487.7 1022.0,488.5 1023.5,488.4 1025.0,487.8 1026.5,487.7 1028.0,488.7 1029.5,487.7 1031.0,487.9 1032.5,488.6 1034.0,489.0 1035.5,487.9 1037.0,487.4 1038.5,487.3 1040.0,487.3 1041.5,489.0 1043.0,488.7 1044.5,487.6 1046.0,487.1 1047.5,488.2 1049.0,488.2 1050.5,487.9 1052.0,488.0 1053.5,487.5 1055.0,486.9 1056.5,486.7 1058.0,487.5 1059.5,487.3 1061.0,487.1 1062.5,487.0 1064.0,487.2 1065.5,487.3 1067.0,487.9 1068.5,488.5 1070.0,488.5 1071.5,488.4 1073.0,488.0 1074.5,487.5 1076.0,487.1 1077.5,487.9 1079.0,488.3 1080.5,488.4 1082.0,488.7 1083.5,488.2 1085.0,487.9 1086.5,488.0 1088.0,488.2 1089.5,487.6 1091.0,487.4 1092.5,487.7 1094.0,488.4 1095.5,487.4 1097.0,487.5 1098.5,488.1 1100.0,488.5 1101.5,488.3 1103.0,488.2 1104.5,488.0 1106.0,487.2 1107.5,487.7 1109.0,487.9 1110.5,488.0 1112.0,488.4 1113.5,488.3 1115.0,488.2 1116.5,488.3 1118.0,489.3 1119.5,488.6 1121.0,488.1 1122.5,487.7 1124.0,487.6 1125.5,487.9 1127.0,487.8 1128.5,488.0 1130.0,489.2 1131.5,488.6 1133.0,488.1 1134.5,487.7 1136.0,487.6 1137.5,487.3 1139.0,487.5 1140.5,488.1 1142.0,488.9 1143.5,488.7 1145.0,488.3 1146.5,488.0 1148.0,488.1 1149.5,487.1 1151.0,487.6 1152.5,488.4 1154.0,487.9 1155.5,488.7 1157.0,488.4 1158.5,487.8 1160.0,487.7 1161.5,488.2 1163.0,488.1 1164.5,488.4 1166.0,489.7 1167.5,489.4 1169.0,489.6 1170.5,489.9 1172.0,490.2 1173.5,490.2 1175.0,490.6 1176.0,491.0 1176.5,491.0 1177.0,491.1 1177.5,491.2 1178.0,491.2 1178.5,491.4 1179.0,491.6 1179.5,491.9 1180.0,492.1 1180.5,491.9 1181.0,491.8 1181.5,491.7 1182.0,491.5 1182.5,491.6 1183.0,491.6 1183.5,491.6 1184.0,491.7 1184.5,491.6 1185.0,491.5 1185.5,491.3 1186.0,491.2 1186.5,491.2 1187.0,491.2 1187.5,491.2 1188.0,491.1 1188.5,491.1 1189.0,491.0 1189.5,491.0 1190.0,491.0 1190.5,491.1 1191.0,491.2 1191.5,491.3 1192.0,491.4 1192.5,491.2 1193.0,491.1 1193.5,490.9 1194.0,490.7 1194.5,490.8 1195.0,490.8 1195.5,490.9 1196.0,490.9 1196.5,490.8 1197.0,490.6 1197.5,490.5 1198.0,490.3 1198.5,490.3 1199.0,490.3 1199.5,490.3 1200.0,490.3 1200.5,490.2 1201.0,490.0 1201.5,489.9 1202.0,489.8 1202.5,490.1 1203.0,490.4 1203.5,490.7 1204.0,491.1 1204.5,491.3 1205.0,491.5 1205.5,491.7 1206.0,491.9 1206.5,491.7 1207.0,491.6 1207.5,491.5 1208.0,491.4 1208.5,491.7 1209.0,492.0 1209.5,492.3 1210.0,492.6 1210.5,492.7 1211.0,492.8 1211.5,492.9 1212.0,493.0 1212.5,493.0 1213.0,493.1 1213.5,493.3 1214.0,493.8 1214.5,494.9 1215.0,496.2 1215.5,497.7 1216.0,499.4 1216.5,500.9 1217.0,502.4 1217.5,503.9 1218.0,505.5 1218.5,507.2 1219.0,508.8 1219.5,510.5 1220.0,512.3 1220.5,514.4 1221.0,516.7 1221.5,519.0 1222.0,521.4 1222.5,523.6 1223.0,525.8 1223.5,527.9 1224.0,530.0 1224.5,532.0 1225.0,533.9 1225.5,535.6 1226.0,537.1 1226.5,538.9 1227.0,540.3 1227.5,541.5 1228.0,542.3 1228.5,542.3 1229.0,541.9 1229.5,541.0 1230.0,539.7 1230.5,538.3 1231.0,536.6 1231.5,534.6 1232.0,532.4 1232.5,529.9 1233.0,527.4 1233.5,524.9 1234.0,522.3 1234.5,520.0 1235.0,517.7 1235.5,515.7 1236.0,514.0 1236.5,512.4 1237.0,511.0 1237.5,509.6 1238.0,508.2 1238.5,506.8 1239.0,505.4 1239.5,504.2 1240.0,503.0 1240.5,502.4 1241.0,502.0 1241.5,501.8 1242.0,501.8 1242.5,501.3 1243.0,500.7 1243.5,500.2 1244.0,499.7 1244.5,499.5 1245.0,499.3 1245.5,499.2 1246.0,499.0 1246.5,498.6 1247.0,498.3 1247.5,498.0 1248.0,497.7 1248.5,497.8 1249.0,497.9 1249.5,498.0 1250.0,498.2 1250.5,498.2 1251.0,498.2 1251.5,498.2 1252.0,498.2 1252.5,498.2 1253.0,498.1 1253.5,498.1 1254.0,498.0 1254.5,498.1 1255.0,498.2 1255.5,498.3 1256.0,498.4 1256.5,498.2 1257.0,498.1 1257.5,498.0 1258.0,497.8 1258.5,497.7 1259.0,497.7 1259.5,497.6 1260.0,497.5 1260.5,497.5 1261.0,497.6 1261.5,497.6 1262.0,497.7 1262.5,497.9 1263.0,498.2 1263.5,498.5 1264.0,498.7 1264.5,498.8 1265.0,498.8 1265.5,498.8 1266.0,498.9 1266.5,499.1 1267.0,499.3 1267.5,499.6 1268.0,499.8 1268.5,500.0 1269.0,500.1 1269.5,500.3 1270.0,500.5 1270.5,500.9 1271.0,501.3 1271.5,501.7 1272.0,502.2 1272.5,502.7 1273.0,503.2 1273.5,503.8 1274.0,504.5 1274.5,505.0 1275.0,505.7 1275.5,506.6 1276.0,507.6 1276.5,509.1 1277.0,510.7 1277.5,512.5 1278.0,514.5 1278.5,516.3 1279.0,518.2 1279.5,521.0 1280.0,525.2 1280.5,531.1 1281.0,537.8 1281.5,545.2 1282.0,552.9 1282.5,560.2 1283.0,567.4 1283.5,575.7 1284.0,586.0 1284.5,597.5 1285.0,609.0 1285.5,619.7 1286.0,628.5 1286.5,634.3 1287.0,636.4 1287.5,635.1 1288.0,631.7 1288.5,626.6 1289.0,620.1 1289.5,612.8 1290.0,605.0 1290.5,597.1 1291.0,589.4 1291.5,582.5 1292.0,576.6 1292.5,572.4 1293.0,569.9 1293.5,567.9 1294.0,566.1 1294.5,564.2 1295.0,562.5 1295.5,561.2 1296.0,560.1 1296.5,559.4 1297.0,559.0 1297.5,558.6 1298.0,558.2 1298.5,558.1 1299.0,558.0 1299.5,557.9 1300.0,557.9 1300.5,557.7 1301.0,557.5 1301.5,557.4 1302.0,557.2 1302.5,557.3 1303.0,557.3 1303.5,557.4 1304.0,557.4 1304.5,557.2 1305.0,557.0 1305.5,556.7 1306.0,556.5 1306.5,556.2 1307.0,555.9 1307.5,555.6 1308.0,555.2 1308.5,555.0 1309.0,554.7 1309.5,554.2 1310.0,553.5 1310.5,552.4 1311.0,551.1 1311.5,549.5 1312.0,547.6 1312.5,541.9 1313.0,531.7 1313.5,521.3 1314.0,515.3 1314.5,512.8 1315.0,510.8 1315.5,509.5 1316.0,508.8 1316.5,509.3 1317.0,510.7 1317.5,512.7 1318.0,515.0 1318.5,517.5 1319.0,519.7 1319.5,521.3 1320.0,522.0 1320.5,521.6 1321.0,520.6 1321.5,519.3 1322.0,517.7 1322.5,516.3 1323.0,515.0 1323.5,514.1 1324.0,513.8 1324.5,514.2 1325.0,515.2 1325.5,516.7 1326.0,518.6 1326.5,520.4 1327.0,522.2 1327.5,523.7 1328.0,524.8 1328.5,525.6 1329.0,525.1 1329.5,521.4 1330.0,515.8 1330.5,509.5 1331.0,504.1 1331.5,501.1 1332.0,500.5 1332.5,499.9 1333.0,499.3 1333.5,498.7 1334.0,498.2 1334.5,497.8 1335.0,497.5 1335.5,497.3 1336.0,497.0 1336.5,496.8 1337.0,496.6 1337.5,496.5 1338.0,496.3 1338.5,496.0 1339.0,495.6 1339.5,495.3 1340.0,495.0 1340.5,494.9 1341.0,494.9 1341.5,494.9 1342.0,494.9 1342.5,494.9 1343.0,495.0 1343.5,495.0 1344.0,495.2 1344.5,495.4 1345.0,495.7 1345.5,496.0 1346.0,496.5 1346.5,497.0 1347.0,497.7 1347.5,498.4 1348.0,499.1 1348.5,499.7 1349.0,500.3 1349.5,501.0 1350.0,501.8 1350.5,502.9 1351.0,504.1 1351.5,505.4 1352.0,506.7 1352.5,507.9 1353.0,509.2 1353.5,510.7 1354.0,512.8 1354.5,515.3 1355.0,518.3 1355.5,521.7 1356.0,525.4 1356.5,529.0 1357.0,532.8 1357.5,536.7 1358.0,540.8 1358.5,545.0 1359.0,549.4 1359.5,555.1 1360.0,562.0 1360.5,569.4 1361.0,576.6 1361.5,582.8 1362.0,587.6 1362.5,590.3 1363.0,589.8 1363.5,584.9 1364.0,576.6 1364.5,566.1 1365.0,554.9 1365.5,544.1 1366.0,535.1 1366.5,529.0 1367.0,525.7 1367.5,522.6 1368.0,519.7 1368.5,517.2 1369.0,515.0 1369.5,512.8 1370.0,510.9 1370.5,509.1 1371.0,507.4 1371.5,506.0 1372.0,504.7 1372.5,503.6 1373.0,502.7 1373.5,502.1 1374.0,501.6 1374.5,501.2 1375.0,500.9 1375.5,500.6 1376.0,500.3 1376.5,500.2 1377.0,500.2 1377.5,500.2 1378.0,500.3 1378.5,500.2 1379.0,500.1 1379.5,500.2 1380.0,500.5 1380.5,500.8 1381.0,501.3 1381.5,501.9 1382.0,502.5 1382.5,503.5 1383.0,504.4 1383.5,505.3 1384.0,506.2 1384.5,507.0 1385.0,507.7 1385.5,508.4 1386.0,509.2 1386.5,509.9 1387.0,510.5 1387.5,511.2 1388.0,512.0 1388.5,513.0 1389.0,514.0 1389.5,515.0 1390.0,516.1 1390.5,517.2 1391.0,518.3 1391.5,519.5 1392.0,520.7 1392.5,521.4 1393.0,522.1 1393.5,522.8 1394.0,523.5 1394.5,524.7 1395.0,526.0 1395.5,527.1 1396.0,528.3 1396.5,529.3 1397.0,530.3 1397.5,531.4 1398.0,532.5 1398.5,533.7 1399.0,535.0 1399.5,536.5 1400.0,538.1 1400.5,540.2 1401.0,542.5 1401.5,545.2 1402.0,548.1 1402.5,552.0 1403.0,556.9 1403.5,562.3 1404.0,567.4 1404.5,572.3 1405.0,577.2 1405.5,582.2 1406.0,587.5 1406.5,592.7 1407.0,598.0 1407.5,603.9 1408.0,610.6 1408.5,619.2 1409.0,629.3 1409.5,640.4 1410.0,652.0 1410.5,663.2 1411.0,673.7 1411.5,683.3 1412.0,693.7 1412.5,705.2 1413.0,716.3 1413.5,726.2 1414.0,733.9 1414.5,738.3 1415.0,738.9 1415.5,736.2 1416.0,730.8 1416.5,723.1 1417.0,713.5 1417.5,702.6 1418.0,690.8 1418.5,678.7 1419.0,666.5 1419.5,654.7 1420.0,643.6 1420.5,633.7 1421.0,625.4 1421.5,618.0 1422.0,610.7 1422.5,603.2 1423.0,595.9 1423.5,588.9 1424.0,582.2 1424.5,576.1 1425.0,570.4 1425.5,565.4 1426.0,561.1 1426.5,557.1 1427.0,553.0 1427.5,549.1 1428.0,545.4 1428.5,542.4 1429.0,539.9 1429.5,537.9 1430.0,536.6 1430.5,536.0 1431.0,536.0 1431.5,536.2 1432.0,536.4 1432.5,536.2 1433.0,536.0 1433.5,535.8 1434.0,535.6 1434.5,535.7 1435.0,535.8 1435.5,536.0 1436.0,536.1 1436.5,536.1 1437.0,536.1 1437.5,536.1 1438.0,536.1 1438.5,536.1 1439.0,536.0 1439.5,536.0 1440.0,535.9 1440.5,536.0 1441.0,536.0 1441.5,536.0 1442.0,536.0 1442.5,536.0 1443.0,536.0 1443.5,536.0 1444.0,536.0 1444.5,535.9 1445.0,535.8 1445.5,535.7 1446.0,535.6 1446.5,535.2 1447.0,533.4 1447.5,530.6 1448.0,527.1 1448.5,523.1 1449.0,519.1 1449.5,515.5 1450.0,512.6 1450.5,510.5 1451.0,509.2 1451.5,507.8 1452.0,506.5 1452.5,505.6 1453.0,504.8 1453.5,504.0 1454.0,503.3 1454.5,502.1 1455.0,501.1 1455.5,500.0 1456.0,499.0 1456.5,498.4 1457.0,497.8 1457.5,497.3 1458.0,496.8 1458.5,496.4 1459.0,496.1 1459.5,495.9 1460.0,495.7 1460.5,495.2 1461.0,494.7 1461.5,494.3 1462.0,494.0 1462.5,493.9 1463.0,494.2 1463.5,495.6 1464.0,498.2 1464.5,501.9 1465.0,506.2 1465.5,510.9 1466.0,515.7 1466.5,520.0 1467.0,524.0 1467.5,527.4 1468.0,530.0 1468.5,532.1 1469.0,532.9 1469.5,532.1 1470.0,529.9 1470.5,526.4 1471.0,522.3 1471.5,518.1 1472.0,514.2 1472.5,511.0 1473.0,508.9 1473.5,508.3 1474.0,508.5 1474.5,508.9 1475.0,509.7 1475.5,510.6 1476.0,511.7 1476.5,512.9 1477.0,514.2 1477.5,515.7 1478.0,517.3 1478.5,519.3 1479.0,521.3 1479.5,523.5 1480.0,525.8 1480.5,528.3 1481.0,531.0 1481.5,534.7 1482.0,540.3 1482.5,547.3 1483.0,555.4 1483.5,564.5 1484.0,574.0 1484.5,583.6 1485.0,593.1 1485.5,602.0 1486.0,610.0 1486.5,617.0 1487.0,622.3 1487.5,625.8 1488.0,627.0 1488.5,626.2 1489.0,624.2 1489.5,621.1 1490.0,617.0 1490.5,612.4 1491.0,607.0 1491.5,601.2 1492.0,595.0 1492.5,588.1 1493.0,581.1 1493.5,574.2 1494.0,567.6 1494.5,561.7 1495.0,556.3 1495.5,551.6 1496.0,547.8 1496.5,544.9 1497.0,542.1 1497.5,539.3 1498.0,536.6 1498.5,533.8 1499.0,531.0 1499.5,528.2 1500.0,525.6 1500.5,523.1 1501.0,520.8 1501.5,518.5 1502.0,516.4 1502.5,514.5 1503.0,512.6 1503.5,511.0 1504.0,509.5 1504.5,508.4 1505.0,507.5 1505.5,506.9 1506.0,506.4 1506.5,506.1 1507.0,506.1 1507.5,506.6 1508.0,507.9 1508.5,509.6 1509.0,511.9 1509.5,514.7 1510.0,518.0 1510.5,521.4 1511.0,525.1 1511.5,528.8 1512.0,532.5 1512.5,536.5 1513.0,540.2 1513.5,543.7 1514.0,546.8 1514.5,549.3 1515.0,551.2 1515.5,552.5 1516.0,552.9 1516.5,552.0 1517.0,549.3 1517.5,545.4 1518.0,540.5 1518.5,535.2 1519.0,529.8 1519.5,524.7 1520.0,520.3 1520.5,517.0 1521.0,515.2 1521.5,513.6 1522.0,512.1 1522.5,510.4 1523.0,508.7 1523.5,507.2 1524.0,505.6 1524.5,504.6 1525.0,503.6 1525.5,502.7 1526.0,501.9 1526.5,501.1 1527.0,500.4 1527.5,499.7 1528.0,499.2 1528.5,498.7 1529.0,498.3 1529.5,498.0 1530.0,497.8 1530.5,497.5 1531.0,497.3 1531.5,497.0 1532.0,496.8 1532.5,496.6 1533.0,496.4 1533.5,496.2 1534.0,496.0 1534.5,495.8 1535.0,495.7 1535.5,495.5 1536.0,495.4 1536.5,495.2 1537.0,495.0 1537.5,494.9 1538.0,494.7 1538.5,494.7 1539.0,494.7 1539.5,494.7 1540.0,494.7 1540.5,494.6 1541.0,494.5 1541.5,494.4 1542.0,494.4 1542.5,494.3 1543.0,494.2 1543.5,494.2 1544.0,494.1 1544.5,494.5 1545.0,494.9 1545.5,495.4 1546.0,496.0 1546.5,496.4 1547.0,497.0 1547.5,497.7 1548.0,498.4 1548.5,499.1 1549.0,499.8 1549.5,500.6 1550.0,501.4 1550.5,502.6 1551.0,503.8 1551.5,505.1 1552.0,506.4 1552.5,507.7 1553.0,509.2 1553.5,511.6 1554.0,515.1 1554.5,519.3 1555.0,524.3 1555.5,530.0 1556.0,536.1 1556.5,542.6 1557.0,549.3 1557.5,556.0 1558.0,562.7 1558.5,569.1 1559.0,575.2 1559.5,580.7 1560.0,585.6 1560.5,589.4 1561.0,592.2 1561.5,593.9 1562.0,594.4 1562.5,593.6 1563.0,591.5 1563.5,588.3 1564.0,584.0 1564.5,579.1 1565.0,573.5 1565.5,567.5 1566.0,561.3 1566.5,554.7 1567.0,548.3 1567.5,542.2 1568.0,536.5 1568.5,531.7 1569.0,527.7 1569.5,524.7 1570.0,522.9 1570.5,522.3 1571.0,523.1 1571.5,524.9 1572.0,527.6 1572.5,531.1 1573.0,534.6 1573.5,538.0 1574.0,540.9 1574.5,542.8 1575.0,543.4 1575.5,542.8 1576.0,540.9 1576.5,538.3 1577.0,535.0 1577.5,531.4 1578.0,527.6 1578.5,523.7 1579.0,520.2 1579.5,517.3 1580.0,515.5 1580.5,514.6 1581.0,513.7 1581.5,512.8 1582.0,512.0 1582.5,511.2 1583.0,510.6 1583.5,509.9 1584.0,509.3 1584.5,508.7 1585.0,508.2 1585.5,507.8 1586.0,507.4 1586.5,507.0 1587.0,506.7 1587.5,506.4 1588.0,506.2 1588.5,506.3 1589.0,506.5 1589.5,506.7 1590.0,506.9 1590.5,507.1 1591.0,507.3 1591.5,507.5 1592.0,507.8 1592.5,508.4 1593.0,509.1 1593.5,509.7 1594.0,510.3 1594.5,510.2 1595.0,510.1 1595.5,509.9 1596.0,509.6 1596.5,509.3 1597.0,508.9 1597.5,508.3 1598.0,507.6 1598.5,506.8 1599.0,506.0 1599.5,505.2 1600.0,504.5 1600.5,504.1 1601.0,503.7 1601.5,503.6 1602.0,503.7 1602.5,504.1 1603.0,504.7 1603.5,505.5 1604.0,506.4 1604.5,507.2 1605.0,508.0 1605.5,508.8 1606.0,509.5 1606.5,510.2 1607.0,510.8 1607.5,511.1 1608.0,511.2 1608.5,511.3 1609.0,511.4 1609.5,511.3 1610.0,511.2 1610.5,510.7 1611.0,510.1 1611.5,509.5 1612.0,508.8 1612.5,508.2 1613.0,507.5 1613.5,506.8 1614.0,506.2 1614.5,505.5 1615.0,504.8 1615.5,504.2 1616.0,503.6 1616.5,503.2 1617.0,502.8 1617.5,502.5 1618.0,502.2 1618.5,501.9 1619.0,501.7 1619.5,501.5 1620.0,501.2 1620.5,501.2 1621.0,501.1 1621.5,501.1 1622.0,501.0 1622.5,500.8 1623.0,500.6 1623.5,500.5 1624.0,500.3 1624.5,500.3 1625.0,500.2 1625.5,500.5 1626.0,501.1 1626.5,502.1 1627.0,503.3 1627.5,504.8 1628.0,506.4 1628.5,507.9 1629.0,509.5 1629.5,511.0 1630.0,512.4 1630.5,513.7 1631.0,514.8 1631.5,515.5 1632.0,515.9 1632.5,516.1 1633.0,516.1 1633.5,516.1 1634.0,516.0 1634.5,515.3 1635.0,514.6 1635.5,513.9 1636.0,513.3 1636.5,512.8 1637.0,512.5 1637.5,512.2 1638.0,512.0 1638.5,513.4 1639.0,516.8 1639.5,521.5 1640.0,527.3 1640.5,533.1 1641.0,539.0 1641.5,544.4 1642.0,548.8 1642.5,552.0 1643.0,553.4 1643.5,553.1 1644.0,551.8 1644.5,549.3 1645.0,546.3 1645.5,542.8 1646.0,539.1 1646.5,535.5 1647.0,532.0 1647.5,528.8 1648.0,526.0 1648.5,523.6 1649.0,521.9 1649.5,520.8 1650.0,519.7 1650.5,518.7 1651.0,517.8 1651.5,516.9 1652.0,516.1 1652.5,515.6 1653.0,515.1 1653.5,514.7 1654.0,514.3 1654.5,514.0 1655.0,513.7 1655.5,513.4 1656.0,513.2 1656.5,512.8 1657.0,512.5 1657.5,512.2 1658.0,511.9 1658.5,511.7 1659.0,511.4 1659.5,511.2 1660.0,511.1 1660.5,511.0 1661.0,511.0 1661.5,511.1 1662.0,511.1 1662.5,511.0 1663.0,511.0 1663.5,511.0 1664.0,511.0 1664.5,511.1 1665.0,511.4 1665.5,511.8 1666.0,512.4 1666.5,513.1 1667.0,513.9 1667.5,514.9 1668.0,516.0 1668.5,517.3 1669.0,518.8 1669.5,520.4 1670.0,522.0 1670.5,523.2 1671.0,524.4 1671.5,525.7 1672.0,527.0"/>
<polyline stroke="#008000" points="164.0,654.4 165.5,648.9 167.0,650.1 168.5,652.8 170.0,651.8 171.5,653.2 173.0,653.0 174.5,652.9 176.0,654.5 177.5,652.5 179.0,651.4 180.5,651.4 182.0,652.7 183.5,652.5 185.0,651.9 186.5,651.4 188.0,651.5 189.5,652.6 191.0,653.0 192.5,652.5 194.0,651.2 195.5,651.4 197.0,650.3 198.5,650.6 200.0,654.5 201.5,652.4 203.0,652.9 204.5,653.7 206.0,652.7 207.5,654.5 209.0,654.8 210.5,654.0 212.0,652.7 213.5,654.0 215.0,652.7 216.5,651.7 218.0,654.3 219.5,651.2 221.0,651.6 222.5,653.3 224.0,654.1 225.5,653.2 227.0,652.5 228.5,651.9 230.0,651.5 231.5,652.1 233.0,653.3 234.5,654.3 236.0,654.2 237.5,652.9 239.0,651.8 240.5,651.8 242.0,654.0 243.5,651.6 245.0,651.5 246.5,652.1 248.0,651.9 249.5,653.6 251.0,653.7 252.5,653.4 254.0,653.7 255.5,653.5 257.0,652.7 258.5,652.4 260.0,653.8 261.5,654.8 263.0,654.0 264.5,653.2 266.0,654.0 267.5,653.1 269.0,653.7 270.5,654.4 272.0,654.0 273.5,654.2 275.0,653.9 276.5,654.0 278.0,655.5 279.5,653.2 281.0,652.5 282.5,652.4 284.0,652.1 285.5,653.5 287.0,653.0 288.5,652.2 290.0,652.4 291.5,654.4 293.0,655.8 294.5,656.6 296.0,656.7 297.5,653.8 299.0,654.7 300.5,656.8 302.0,657.5 303.5,658.1 305.0,659.5 306.5,662.0 308.0,665.6 309.5,664.4 311.0,664.6 312.5,666.1 314.0,669.0 315.5,669.7 317.0,670.7 318.5,671.7 320.0,672.0 321.5,673.8 323.0,675.3 324.5,675.6 326.0,673.6 327.5,674.4 329.0,676.8 330.5,678.9 332.0,678.9 333.5,677.5 335.0,676.8 336.5,676.9 338.0,677.9 339.5,676.9 341.0,677.3 342.5,678.8 344.0,681.1 345.5,679.5 347.0,679.8 348.5,680.2 350.0,678.8 351.5,679.6 353.0,680.7 354.5,680.7 356.0,677.8 357.5,679.2 359.0,680.1 360.5,681.0 362.0,682.2 363.5,684.4 365.0,685.1 366.5,684.6 368.0,683.1 369.5,685.5 371.0,686.5 372.5,686.9 374.0,687.8 375.5,691.9 377.0,691.4 378.5,690.2 380.0,692.1 381.5,691.2 383.0,692.2 384.5,693.2 386.0,692.8 387.5,692.6 389.0,692.4 390.5,692.8 392.0,694.2 393.5,692.0 395.0,691.4 396.5,691.5 398.0,691.1 399.5,693.9 401.0,693.6 402.5,692.1 404.0,691.3 405.5,692.1 407.0,694.5 408.5,695.7 410.0,692.8 411.5,693.9 413.0,694.0 414.5,693.5 416.0,692.9 417.5,692.0 419.0,691.9 420.5,691.9 422.0,691.7 423.5,689.3 425.0,691.8 426.5,694.4 428.0,692.2 429.5,690.9 431.0,689.9 432.5,689.0 434.0,687.9 435.5,689.4 437.0,688.7 438.5,687.7 440.0,688.0 441.5,685.5 443.0,685.7 444.5,687.3 446.0,688.8 447.5,685.9 449.0,685.5 450.5,685.7 452.0,684.4 453.5,685.3 455.0,685.3 456.5,684.6 458.0,683.1 459.5,682.1 461.0,682.1 462.5,682.3 464.0,681.7 465.5,680.6 467.0,680.8 468.5,681.3 470.0,680.9 471.5,679.1 473.0,678.8 474.5,680.2 476.0,683.3 477.5,680.6 479.0,678.9 480.5,679.0 482.0,681.4 483.5,677.7 485.0,674.7 486.5,673.1 488.0,673.4 489.5,673.5 491.0,674.6 492.5,675.9 494.0,676.4 495.5,672.5 497.0,673.5 498.5,674.8 500.0,671.8 501.5,673.2 503.0,673.6 504.5,673.5 506.0,673.2 507.5,672.4 509.0,672.1 510.5,671.5 512.0,669.8 513.5,671.1 515.0,671.9 516.5,672.1 518.0,671.8 519.5,673.4 521.0,672.6 522.5,671.1 524.0,670.4 525.5,671.3 527.0,670.3 528.5,668.5 530.0,666.5 531.5,665.3 533.0,667.4 534.5,669.6 536.0,668.7 537.5,668.9 539.0,668.0 540.5,667.3 542.0,668.1 543.5,669.7 545.0,669.1 546.5,667.4 548.0,665.7 549.5,666.4 551.0,668.0 552.5,668.4 554.0,665.6 555.5,663.9 557.0,663.5 558.5,664.0 560.0,665.1 561.5,667.5 563.0,667.7 564.5,666.9 566.0,665.9 567.5,665.3 569.0,666.0 570.5,666.8 572.0,666.8 573.5,666.3 575.0,666.4 576.5,666.5 578.0,665.9 579.5,668.8 581.0,666.7 582.5,664.5 584.0,667.4 585.5,666.2 587.0,667.1 588.5,668.1 590.0,667.1 591.5,667.9 593.0,668.3 594.5,668.4 596.0,668.2 597.5,669.2 599.0,668.0 600.5,667.8 602.0,671.4 603.5,671.2 605.0,672.4 606.5,674.5 608.0,676.8 609.5,677.2 611.0,678.2 612.5,677.6 614.0,673.2 615.5,675.0 617.0,677.1 618.5,678.0 620.0,675.9 621.5,677.2 623.0,679.3 624.5,680.7 626.0,680.2 627.5,678.6 629.0,679.6 630.5,682.2 632.0,685.0 633.5,687.2 635.0,689.4 636.5,690.8 638.0,690.8 639.5,686.9 641.0,684.3 642.5,681.3 644.0,676.3 645.5,674.6 647.0,673.1 648.5,672.2 650.0,670.7 651.5,672.5 653.0,673.1 654.5,672.9 656.0,672.7 657.5,673.8 659.0,673.5 660.5,673.0 662.0,673.2 663.5,673.8 665.0,674.0 666.5,674.4 668.0,675.6 669.5,671.2 671.0,670.6 672.5,670.5 674.0,667.4 675.5,667.8 677.0,667.6 678.5,666.9 680.0,665.6 681.5,665.9 683.0,665.3 684.5,663.4 686.0,659.7 687.5,661.3 689.0,663.8 690.5,665.6 692.0,665.4 693.5,663.7 695.0,661.8 696.5,661.8 698.0,666.0 699.5,662.0 701.0,661.8 702.5,663.0 704.0,662.7 705.5,662.9 707.0,662.3 708.5,661.8 710.0,662.4 711.5,663.5 713.0,663.1 714.5,662.1 716.0,661.4 717.5,662.4 719.0,662.8 720.5,662.8 722.0,662.7 723.5,662.2 725.0,662.7 726.5,663.2 728.0,662.7 729.5,662.0 731.0,662.4 732.5,663.1 734.0,662.9 735.5,663.0 737.0,662.2 738.5,661.5 740.0,662.2 741.5,663.2 743.0,663.7 744.5,663.9 746.0,663.4 747.5,663.3 749.0,663.6 750.5,664.0 752.0,664.2 753.5,664.8 755.0,664.4 756.5,663.5 758.0,662.7 759.5,663.5 761.0,662.6 762.5,661.9 764.0,663.5 765.5,663.1 767.0,663.2 768.5,663.6 770.0,664.0 771.5,663.7 773.0,662.9 774.5,662.4 776.0,663.3 777.5,663.0 779.0,663.3 780.5,663.8 782.0,664.1 783.5,663.1 785.0,663.7 786.5,664.7 788.0,665.1 789.5,664.0 791.0,664.1 792.5,664.1 794.0,662.5 795.5,663.2 797.0,664.2 798.5,664.3 800.0,662.3 801.5,663.2 803.0,663.4 804.5,663.7 806.0,665.3 807.5,665.3 809.0,664.4 810.5,663.7 812.0,664.3 813.5,662.3 815.0,663.4 816.5,665.0 818.0,664.7 819.5,665.4 821.0,663.8 822.5,662.7 824.0,664.8 825.5,664.3 827.0,663.0 828.5,662.4 830.0,663.9 831.5,664.4 833.0,665.0 834.5,665.3 836.0,664.9 837.5,664.4 839.0,664.8 840.5,665.1 842.0,664.8 843.5,664.4 845.0,664.2 846.5,664.3 848.0,665.3 849.5,665.3 851.0,666.2 852.5,666.6 854.0,664.9 855.5,666.5 857.0,666.5 858.5,666.1 860.0,666.8 861.5,665.4 863.0,664.9 864.5,665.2 866.0,665.7 867.5,666.7 869.0,666.7 870.5,666.6 872.0,667.1 873.5,666.9 875.0,667.3 876.5,667.5 878.0,667.0 879.5,666.6 881.0,667.2 882.5,668.4 884.0,669.0 885.5,671.0 887.0,670.8 888.5,663.9 890.0,658.1 891.5,665.3 893.0,673.4 894.5,674.0 896.0,673.6 897.5,673.1 899.0,671.6 900.5,670.1 902.0,669.4 903.5,670.2 905.0,670.4 906.5,670.3 908.0,670.5 909.5,667.7 911.0,667.6 912.5,667.9 914.0,666.8 915.5,667.4 917.0,667.9 918.5,668.6 920.0,669.5 921.5,668.4 923.0,667.9 924.5,668.0 926.0,668.3 927.5,669.5 929.0,670.5 930.5,670.1 932.0,667.1 933.5,668.1 935.0,668.4 936.5,668.7 938.0,669.9 939.5,669.4 941.0,669.8 942.5,669.8 944.0,667.9 945.5,668.7 947.0,668.7 948.5,668.4 950.0,667.9 951.5,668.7 953.0,668.4 954.5,668.8 956.0,671.3 957.5,670.1 959.0,668.9 960.5,668.4 962.0,668.7 963.5,670.5 965.0,670.0 966.5,669.2 968.0,670.1 969.5,670.1 971.0,670.4 972.5,670.5 974.0,670.2 975.5,669.6 977.0,669.2 978.5,668.8 980.0,667.9 981.5,669.3 983.0,669.8 984.5,669.8 986.0,669.5 987.5,669.6 989.0,669.2 990.5,669.5 992.0,672.1 993.5,670.1 995.0,669.2 996.5,669.0 998.0,669.4 999.5,669.7 1001.0,670.3 1002.5,669.9 1004.0,667.6 1005.5,669.8 1007.0,669.9 1008.5,669.5 1010.0,669.8 1011.5,670.7 1013.0,670.9 1014.5,670.4 1016.0,669.3 1017.5,669.8 1019.0,670.9 1020.5,671.7 1022.0,671.4 1023.5,671.0 1025.0,670.4 1026.5,670.3 1028.0,671.0 1029.5,670.5 1031.0,669.9 1032.5,669.3 1034.0,669.0 1035.5,670.1 1037.0,670.5 1038.5,670.6 1040.0,671.2 1041.5,669.9 1043.0,670.5 1044.5,671.0 1046.0,669.6 1047.5,670.9 1049.0,670.9 1050.5,670.3 1052.0,669.4 1053.5,669.1 1055.0,669.5 1056.5,669.8 1058.0,669.7 1059.5,670.6 1061.0,670.1 1062.5,669.1 1064.0,668.5 1065.5,669.6 1067.0,671.0 1068.5,671.9 1070.0,671.6 1071.5,669.9 1073.0,669.6 1074.5,669.9 1076.0,670.3 1077.5,669.6 1079.0,669.5 1080.5,669.8 1082.0,669.7 1083.5,669.1 1085.0,669.2 1086.5,669.4 1088.0,669.5 1089.5,670.1 1091.0,669.5 1092.5,669.1 1094.0,670.1 1095.5,669.3 1097.0,669.1 1098.5,669.1 1100.0,668.9 1101.5,672.7 1103.0,672.6 1104.5,671.3 1106.0,671.4 1107.5,671.0 1109.0,670.3 1110.5,669.9 1112.0,670.1 1113.5,670.3 1115.0,670.5 1116.5,670.6 1118.0,670.8 1119.5,671.5 1121.0,669.6 1122.5,668.0 1124.0,669.8 1125.5,670.8 1127.0,670.6 1128.5,670.2 1130.0,670.5 1131.5,671.8 1133.0,671.6 1134.5,671.4 1136.0,672.7 1137.5,671.4 1139.0,671.2 1140.5,671.1 1142.0,670.2 1143.5,669.6 1145.0,670.3 1146.5,671.3 1148.0,671.8 1149.5,671.6 1151.0,671.1 1152.5,671.2 1154.0,672.9 1155.5,672.6 1157.0,672.5 1158.5,672.5 1160.0,672.0 1161.5,674.0 1163.0,674.7 1164.5,674.7 1166.0,674.4 1167.5,674.8 1169.0,675.7 1170.5,677.1 1172.0,679.0 1173.5,680.6 1175.0,680.3 1176.0,679.3 1176.5,679.5 1177.0,679.6 1177.5,679.7 1178.0,679.8 1178.5,679.7 1179.0,679.7 1179.5,679.6 1180.0,679.6 1180.5,680.3 1181.0,680.9 1181.5,681.6 1182.0,682.3 1182.5,681.9 1183.0,681.5 1183.5,681.1 1184.0,680.7 1184.5,681.0 1185.0,681.3 1185.5,681.6 1186.0,681.9 1186.5,682.0 1187.0,682.0 1187.5,682.0 1188.0,682.1 1188.5,682.2 1189.0,682.4 1189.5,682.6 1190.0,682.8 1190.5,682.6 1191.0,682.4 1191.5,682.3 1192.0,682.1 1192.5,682.1 1193.0,682.2 1193.5,682.2 1194.0,682.2 1194.5,682.6 1195.0,683.0 1195.5,683.4 1196.0,683.8 1196.5,684.0 1197.0,684.3 1197.5,684.7 1198.0,685.1 1198.5,685.6 1199.0,686.1 1199.5,686.6 1200.0,687.1 1200.5,687.3 1201.0,687.4 1201.5,687.6 1202.0,687.8 1202.5,688.4 1203.0,689.1 1203.5,689.8 1204.0,690.5 1204.5,691.1 1205.0,691.7 1205.5,692.2 1206.0,692.7 1206.5,693.1 1207.0,693.4 1207.5,693.8 1208.0,694.0 1208.5,694.6 1209.0,695.1 1209.5,695.6 1210.0,696.0 1210.5,696.4 1211.0,696.8 1211.5,697.2 1212.0,697.6 1212.5,697.9 1213.0,698.2 1213.5,698.6 1214.0,699.3 1214.5,699.9 1215.0,700.7 1215.5,701.7 1216.0,702.7 1216.5,704.3 1217.0,705.9 1217.5,707.6 1218.0,709.3 1218.5,711.0 1219.0,712.7 1219.5,714.4 1220.0,716.1 1220.5,717.7 1221.0,719.3 1221.5,721.3 1222.0,723.5 1222.5,726.1 1223.0,728.9 1223.5,731.8 1224.0,734.9 1224.5,737.6 1225.0,740.4 1225.5,743.0 1226.0,745.5 1226.5,748.5 1227.0,751.1 1227.5,753.5 1228.0,755.6 1228.5,756.9 1229.0,757.9 1229.5,758.3 1230.0,757.9 1230.5,756.2 1231.0,753.4 1231.5,749.8 1232.0,745.6 1232.5,741.1 1233.0,736.3 1233.5,731.4 1234.0,726.6 1234.5,721.9 1235.0,717.7 1235.5,714.2 1236.0,711.5 1236.5,710.1 1237.0,709.2 1237.5,708.3 1238.0,707.6 1238.5,706.5 1239.0,705.5 1239.5,704.5 1240.0,703.6 1240.5,702.8 1241.0,702.1 1241.5,701.4 1242.0,700.8 1242.5,700.3 1243.0,699.9 1243.5,699.5 1244.0,699.1 1244.5,698.5 1245.0,697.9 1245.5,697.3 1246.0,696.7 1246.5,696.2 1247.0,695.7 1247.5,695.2 1248.0,694.7 1248.5,694.0 1249.0,693.3 1249.5,692.6 1250.0,691.9 1250.5,691.5 1251.0,691.1 1251.5,690.8 1252.0,690.5 1252.5,690.3 1253.0,690.2 1253.5,690.2 1254.0,690.2 1254.5,690.3 1255.0,690.4 1255.5,690.6 1256.0,690.7 1256.5,690.4 1257.0,690.1 1257.5,689.8 1258.0,689.5 1258.5,689.2 1259.0,688.9 1259.5,688.6 1260.0,688.4 1260.5,688.5 1261.0,688.7 1261.5,688.9 1262.0,689.1 1262.5,689.0 1263.0,688.9 1263.5,688.9 1264.0,688.9 1264.5,688.9 1265.0,688.9 1265.5,688.9 1266.0,688.9 1266.5,689.3 1267.0,689.7 1267.5,690.0 1268.0,690.4 1268.5,690.7 1269.0,691.0 1269.5,691.4 1270.0,691.7 1270.5,692.2 1271.0,692.7 1271.5,693.2 1272.0,693.8 1272.5,694.7 1273.0,695.7 1273.5,696.9 1274.0,698.3 1274.5,699.7 1275.0,701.3 1275.5,703.1 1276.0,705.0 1276.5,707.0 1277.0,709.1 1277.5,711.8 1278.0,715.6 1278.5,720.0 1279.0,725.0 1279.5,730.4 1280.0,736.0 1280.5,741.8 1281.0,747.4 1281.5,753.1 1282.0,759.3 1282.5,765.6 1283.0,772.1 1283.5,778.7 1284.0,785.1 1284.5,791.6 1285.0,797.7 1285.5,803.4 1286.0,808.4 1286.5,812.9 1287.0,817.7 1287.5,822.2 1288.0,825.9 1288.5,828.7 1289.0,829.7 1289.5,829.2 1290.0,827.6 1290.5,825.5 1291.0,822.7 1291.5,819.4 1292.0,815.8 1292.5,811.7 1293.0,807.6 1293.5,803.7 1294.0,800.2 1294.5,797.1 1295.0,794.7 1295.5,792.2 1296.0,789.8 1296.5,787.7 1297.0,785.6 1297.5,783.6 1298.0,781.8 1298.5,780.0 1299.0,778.3 1299.5,776.9 1300.0,775.7 1300.5,774.8 1301.0,774.1 1301.5,773.4 1302.0,772.9 1302.5,772.6 1303.0,772.3 1303.5,772.0 1304.0,771.8 1304.5,771.4 1305.0,771.1 1305.5,770.7 1306.0,770.2 1306.5,769.7 1307.0,769.0 1307.5,768.3 1308.0,767.5 1308.5,766.4 1309.0,764.2 1309.5,761.0 1310.0,757.1 1310.5,752.7 1311.0,748.3 1311.5,744.2 1312.0,740.7 1312.5,737.8 1313.0,734.7 1313.5,731.6 1314.0,728.7 1314.5,726.5 1315.0,725.0 1315.5,724.6 1316.0,726.4 1316.5,730.8 1317.0,737.2 1317.5,744.8 1318.0,752.8 1318.5,760.4 1319.0,766.7 1319.5,771.1 1320.0,772.7 1320.5,772.2 1321.0,770.9 1321.5,768.9 1322.0,766.4 1322.5,763.3 1323.0,760.0 1323.5,756.6 1324.0,753.4 1324.5,750.6 1325.0,748.2 1325.5,746.3 1326.0,745.2 1326.5,744.5 1327.0,744.0 1327.5,743.6 1328.0,743.3 1328.5,742.8 1329.0,742.2 1329.5,741.4 1330.0,740.5 1330.5,739.2 1331.0,736.9 1331.5,731.2 1332.0,723.4 1332.5,715.1 1333.0,708.0 1333.5,703.6 1334.0,702.1 1334.5,700.6 1335.0,699.2 1335.5,697.9 1336.0,696.6 1336.5,695.5 1337.0,694.4 1337.5,693.4 1338.0,692.5 1338.5,691.9 1339.0,691.4 1339.5,691.0 1340.0,690.7 1340.5,690.2 1341.0,689.8 1341.5,689.5 1342.0,689.2 1342.5,689.2 1343.0,689.3 1343.5,689.5 1344.0,689.7 1344.5,689.8 1345.0,690.0 1345.5,690.3 1346.0,690.7 1346.5,691.2 1347.0,691.7 1347.5,692.3 1348.0,693.0 1348.5,694.0 1349.0,695.0 1349.5,696.0 1350.0,697.2 1350.5,698.5 1351.0,699.9 1351.5,701.4 1352.0,703.4 1352.5,705.0 1353.0,706.9 1353.5,709.1 1354.0,711.5 1354.5,715.0 1355.0,718.7 1355.5,722.6 1356.0,726.6 1356.5,730.5 1357.0,734.4 1357.5,739.5 1358.0,746.4 1358.5,754.4 1359.0,763.0 1359.5,771.7 1360.0,779.8 1360.5,786.8 1361.0,792.1 1361.5,795.2 1362.0,795.4 1362.5,793.3 1363.0,789.1 1363.5,783.3 1364.0,776.5 1364.5,769.0 1365.0,761.4 1365.5,754.1 1366.0,747.7 1366.5,742.6 1367.0,738.7 1367.5,734.9 1368.0,731.1 1368.5,727.4 1369.0,723.9 1369.5,720.5 1370.0,717.4 1370.5,714.6 1371.0,712.0 1371.5,709.9 1372.0,708.1 1372.5,706.7 1373.0,705.6 1373.5,704.6 1374.0,703.6 1374.5,702.9 1375.0,702.4 1375.5,702.1 1376.0,702.0 1376.5,701.9 1377.0,701.8 1377.5,701.9 1378.0,702.0 1378.5,702.2 1379.0,702.5 1379.5,702.8 1380.0,703.2 1380.5,703.9 1381.0,704.7 1381.5,705.5 1382.0,706.3 1382.5,706.8 1383.0,707.3 1383.5,707.8 1384.0,708.3 1384.5,709.0 1385.0,710.0 1385.5,711.2 1386.0,712.6 1386.5,714.4 1387.0,716.3 1387.5,718.4 1388.0,720.6 1388.5,722.6 1389.0,724.6 1389.5,726.7 1390.0,728.9 1390.5,731.6 1391.0,734.4 1391.5,737.2 1392.0,740.0 1392.5,742.9 1393.0,746.3 1393.5,749.9 1394.0,753.5 1394.5,756.9 1395.0,760.0 1395.5,762.9 1396.0,765.9 1396.5,769.0 1397.0,772.0 1397.5,774.8 1398.0,777.3 1398.5,779.5 1399.0,781.3 1399.5,782.8 1400.0,784.1 1400.5,784.9 1401.0,785.6 1401.5,786.4 1402.0,787.3 1402.5,788.3 1403.0,789.6 1403.5,791.2 1404.0,793.0 1404.5,795.3 1405.0,797.9 1405.5,801.0 1406.0,805.4 1406.5,810.9 1407.0,817.1 1407.5,823.6 1408.0,829.7 1408.5,835.9 1409.0,842.3 1409.5,848.7 1410.0,855.0 1410.5,861.1 1411.0,867.5 1411.5,874.2 1412.0,880.9 1412.5,887.3 1413.0,893.2 1413.5,898.2 1414.0,902.0 1414.5,905.1 1415.0,908.2 1415.5,911.1 1416.0,913.9 1416.5,916.3 1417.0,918.5 1417.5,920.4 1418.0,921.9 1418.5,923.4 1419.0,924.4 1419.5,925.0 1420.0,925.1 1420.5,924.0 1421.0,922.5 1421.5,920.5 1422.0,918.3 1422.5,916.2 1423.0,913.8 1423.5,911.2 1424.0,908.5 1424.5,905.5 1425.0,902.4 1425.5,898.3 1426.0,892.7 1426.5,885.9 1427.0,878.6 1427.5,871.0 1428.0,863.9 1428.5,857.5 1429.0,851.7 1429.5,846.0 1430.0,840.1 1430.5,833.9 1431.0,826.6 1431.5,816.6 1432.0,806.6 1432.5,800.3 1433.0,797.3 1433.5,795.0 1434.0,793.2 1434.5,791.3 1435.0,789.6 1435.5,788.1 1436.0,786.8 1436.5,785.6 1437.0,784.6 1437.5,783.5 1438.0,782.4 1438.5,781.3 1439.0,780.1 1439.5,778.5 1440.0,776.7 1440.5,774.4 1441.0,772.0 1441.5,769.4 1442.0,766.8 1442.5,763.9 1443.0,761.1 1443.5,758.2 1444.0,755.3 1444.5,752.8 1445.0,750.1 1445.5,747.4 1446.0,744.6 1446.5,741.5 1447.0,738.2 1447.5,734.3 1448.0,729.9 1448.5,725.3 1449.0,721.0 1449.5,717.4 1450.0,714.7 1450.5,713.1 1451.0,712.4 1451.5,711.6 1452.0,710.9 1452.5,710.3 1453.0,709.6 1453.5,709.0 1454.0,708.5 1454.5,708.5 1455.0,708.5 1455.5,708.5 1456.0,708.6 1456.5,708.3 1457.0,707.9 1457.5,707.6 1458.0,707.4 1458.5,707.5 1459.0,707.5 1459.5,707.9 1460.0,708.8 1460.5,710.0 1461.0,711.7 1461.5,713.8 1462.0,716.3 1462.5,719.0 1463.0,722.0 1463.5,725.3 1464.0,728.9 1464.5,733.3 1465.0,743.1 1465.5,757.6 1466.0,774.4 1466.5,791.4 1467.0,806.2 1467.5,816.7 1468.0,820.7 1468.5,819.3 1469.0,815.4 1469.5,809.6 1470.0,802.2 1470.5,793.9 1471.0,785.1 1471.5,776.3 1472.0,768.0 1472.5,760.5 1473.0,754.6 1473.5,750.6 1474.0,749.2 1474.5,749.6 1475.0,750.5 1475.5,751.9 1476.0,753.7 1476.5,755.6 1477.0,757.8 1477.5,760.3 1478.0,763.0 1478.5,766.3 1479.0,769.8 1479.5,773.4 1480.0,777.0 1480.5,780.7 1481.0,784.2 1481.5,788.4 1482.0,793.6 1482.5,799.4 1483.0,806.0 1483.5,813.0 1484.0,820.3 1484.5,827.8 1485.0,835.2 1485.5,842.4 1486.0,849.1 1486.5,855.0 1487.0,860.0 1487.5,864.1 1488.0,866.9 1488.5,868.5 1489.0,868.7 1489.5,867.9 1490.0,866.1 1490.5,863.6 1491.0,860.3 1491.5,856.5 1492.0,852.2 1492.5,847.1 1493.0,841.7 1493.5,836.2 1494.0,830.5 1494.5,825.6 1495.0,820.5 1495.5,814.0 1496.0,806.2 1496.5,796.9 1497.0,787.3 1497.5,777.8 1498.0,769.1 1498.5,762.0 1499.0,756.6 1499.5,753.3 1500.0,750.9 1500.5,748.2 1501.0,745.6 1501.5,743.1 1502.0,740.8 1502.5,739.2 1503.0,737.7 1503.5,736.4 1504.0,735.3 1504.5,734.1 1505.0,733.0 1505.5,732.1 1506.0,731.5 1506.5,731.1 1507.0,731.0 1507.5,731.5 1508.0,732.9 1508.5,735.1 1509.0,738.0 1509.5,741.4 1510.0,745.2 1510.5,749.2 1511.0,753.3 1511.5,757.6 1512.0,761.9 1512.5,766.1 1513.0,770.0 1513.5,773.7 1514.0,776.9 1514.5,779.5 1515.0,781.5 1515.5,782.7 1516.0,783.1 1516.5,781.5 1517.0,777.2 1517.5,770.7 1518.0,762.7 1518.5,753.8 1519.0,744.9 1519.5,736.6 1520.0,729.6 1520.5,724.7 1521.0,722.4 1521.5,720.6 1522.0,719.0 1522.5,717.7 1523.0,716.4 1523.5,715.3 1524.0,714.3 1524.5,713.0 1525.0,711.8 1525.5,710.7 1526.0,709.8 1526.5,708.9 1527.0,708.0 1527.5,707.3 1528.0,706.7 1528.5,706.2 1529.0,705.8 1529.5,705.5 1530.0,705.3 1530.5,704.8 1531.0,704.3 1531.5,703.9 1532.0,703.4 1532.5,703.4 1533.0,703.4 1533.5,703.4 1534.0,703.4 1534.5,703.1 1535.0,702.7 1535.5,702.3 1536.0,701.9 1536.5,702.0 1537.0,702.0 1537.5,702.0 1538.0,702.0 1538.5,702.1 1539.0,702.1 1539.5,702.2 1540.0,702.3 1540.5,702.2 1541.0,702.2 1541.5,702.2 1542.0,702.2 1542.5,702.3 1543.0,702.5 1543.5,702.9 1544.0,703.4 1544.5,704.0 1545.0,704.6 1545.5,705.4 1546.0,706.2 1546.5,707.2 1547.0,708.3 1547.5,709.5 1548.0,710.7 1548.5,712.0 1549.0,713.4 1549.5,714.9 1550.0,716.3 1550.5,718.0 1551.0,719.8 1551.5,721.6 1552.0,723.8 1552.5,726.2 1553.0,729.1 1553.5,732.2 1554.0,735.6 1554.5,739.0 1555.0,742.5 1555.5,746.1 1556.0,749.7 1556.5,754.0 1557.0,758.1 1557.5,762.2 1558.0,766.9 1558.5,772.1 1559.0,777.9 1559.5,783.9 1560.0,790.0 1560.5,795.7 1561.0,801.0 1561.5,805.7 1562.0,809.7 1562.5,813.1 1563.0,815.2 1563.5,816.0 1564.0,815.4 1564.5,813.3 1565.0,810.2 1565.5,806.1 1566.0,801.3 1566.5,796.0 1567.0,790.3 1567.5,784.5 1568.0,778.6 1568.5,773.1 1569.0,767.9 1569.5,763.3 1570.0,759.4 1570.5,756.1 1571.0,753.9 1571.5,752.3 1572.0,750.8 1572.5,749.6 1573.0,748.4 1573.5,747.3 1574.0,746.3 1574.5,745.1 1575.0,744.0 1575.5,743.0 1576.0,742.0 1576.5,741.3 1577.0,740.5 1577.5,739.8 1578.0,739.2 1578.5,738.6 1579.0,738.0 1579.5,737.5 1580.0,736.9 1580.5,736.1 1581.0,735.3 1581.5,734.4 1582.0,733.6 1582.5,733.0 1583.0,732.4 1583.5,731.9 1584.0,731.6 1584.5,731.1 1585.0,730.8 1585.5,730.6 1586.0,730.5 1586.5,730.8 1587.0,731.1 1587.5,731.5 1588.0,731.9 1588.5,732.0 1589.0,732.1 1589.5,732.3 1590.0,732.4 1590.5,732.5 1591.0,732.5 1591.5,732.6 1592.0,732.6 1592.5,732.7 1593.0,732.7 1593.5,732.7 1594.0,732.6 1594.5,732.3 1595.0,732.0 1595.5,731.6 1596.0,731.3 1596.5,730.9 1597.0,730.6 1597.5,730.3 1598.0,730.0 1598.5,729.7 1599.0,729.5 1599.5,729.2 1600.0,729.1 1600.5,728.7 1601.0,728.5 1601.5,728.3 1602.0,728.1 1602.5,728.6 1603.0,729.2 1603.5,730.0 1604.0,730.9 1604.5,731.9 1605.0,732.9 1605.5,734.0 1606.0,735.0 1606.5,735.7 1607.0,736.2 1607.5,736.7 1608.0,737.1 1608.5,737.8 1609.0,738.3 1609.5,738.7 1610.0,738.9 1610.5,738.6 1611.0,738.3 1611.5,738.0 1612.0,737.7 1612.5,737.5 1613.0,737.4 1613.5,737.3 1614.0,737.1 1614.5,737.1 1615.0,737.1 1615.5,737.1 1616.0,737.2 1616.5,737.2 1617.0,737.2 1617.5,737.3 1618.0,737.4 1618.5,737.6 1619.0,737.8 1619.5,738.0 1620.0,738.2 1620.5,738.1 1621.0,738.0 1621.5,737.9 1622.0,737.9 1622.5,738.3 1623.0,738.6 1623.5,739.0 1624.0,739.4 1624.5,739.4 1625.0,739.4 1625.5,739.4 1626.0,739.4 1626.5,740.1 1627.0,741.4 1627.5,743.3 1628.0,745.7 1628.5,748.4 1629.0,751.3 1629.5,754.4 1630.0,757.6 1630.5,760.5 1631.0,763.6 1631.5,767.9 1632.0,772.8 1632.5,777.7 1633.0,781.6 1633.5,783.7 1634.0,783.7 1634.5,783.3 1635.0,782.3 1635.5,781.1 1636.0,779.7 1636.5,778.3 1637.0,777.0 1637.5,776.0 1638.0,775.4 1638.5,775.6 1639.0,779.2 1639.5,785.9 1640.0,794.7 1640.5,804.6 1641.0,814.8 1641.5,824.3 1642.0,832.2 1642.5,838.0 1643.0,840.3 1643.5,839.9 1644.0,838.3 1644.5,835.2 1645.0,831.3 1645.5,826.9 1646.0,822.1 1646.5,817.4 1647.0,812.8 1647.5,808.4 1648.0,804.6 1648.5,801.8 1649.0,799.9 1649.5,798.6 1650.0,797.3 1650.5,795.9 1651.0,794.6 1651.5,793.4 1652.0,792.3 1652.5,790.9 1653.0,789.6 1653.5,788.4 1654.0,787.3 1654.5,786.7 1655.0,786.2 1655.5,785.8 1656.0,785.5 1656.5,784.7 1657.0,784.0 1657.5,783.3 1658.0,782.6 1658.5,782.3 1659.0,782.1 1659.5,781.9 1660.0,781.7 1660.5,781.6 1661.0,781.6 1661.5,781.6 1662.0,781.6 1662.5,781.3 1663.0,781.0 1663.5,780.8 1664.0,780.6 1664.5,780.6 1665.0,780.7 1665.5,781.2 1666.0,781.8 1666.5,782.8 1667.0,783.9 1667.5,785.2 1668.0,786.7 1668.5,788.2 1669.0,789.9 1669.5,791.6 1670.0,793.5 1670.5,795.8 1671.0,798.2 1671.5,800.7 1672.0,803.2"/>
<polyline stroke="#0000FF" points="164.0,850.1 165.5,846.3 167.0,844.2 168.5,842.3 170.0,839.3 171.5,845.1 173.0,849.4 174.5,851.0 176.0,848.2 177.5,849.3 179.0,850.5 180.5,849.8 182.0,845.6 183.5,853.6 185.0,850.9 186.5,846.6 188.0,849.5 189.5,854.8 191.0,852.3 192.5,848.2 194.0,848.8 195.5,847.4 197.0,848.2 198.5,847.7 200.0,842.2 201.5,845.5 203.0,850.2 204.5,852.6 206.0,849.3 207.5,848.3 209.0,849.0 210.5,849.9 212.0,850.1 213.5,849.5 215.0,850.0 216.5,849.0 218.0,844.0 219.5,849.1 221.0,848.9 222.5,848.2 224.0,851.5 225.5,849.7 227.0,847.7 228.5,847.0 230.0,849.1 231.5,847.0 233.0,849.4 234.5,851.7 236.0,849.4 237.5,851.4 239.0,849.1 240.5,848.3 242.0,854.5 243.5,850.2 245.0,851.3 246.5,853.5 248.0,852.4 249.5,848.0 251.0,848.7 252.5,850.2 254.0,848.3 255.5,850.5 257.0,852.8 258.5,853.8 260.0,852.2 261.5,853.1 263.0,850.0 264.5,847.8 266.0,850.9 267.5,851.3 269.0,852.5 270.5,852.4 272.0,848.6 273.5,851.3 275.0,852.0 276.5,850.4 278.0,846.0 279.5,847.2 281.0,849.8 282.5,850.9 284.0,847.4 285.5,847.3 287.0,850.6 288.5,853.4 290.0,852.1 291.5,851.1 293.0,851.3 294.5,851.8 296.0,851.6 297.5,852.5 299.0,854.1 300.5,856.5 302.0,860.2 303.5,864.1 305.0,863.8 306.5,862.9 308.0,864.9 309.5,865.4 311.0,864.3 312.5,864.5 314.0,868.4 315.5,870.3 317.0,868.6 318.5,867.5 320.0,871.0 321.5,869.3 323.0,870.7 324.5,872.7 326.0,873.1 327.5,871.1 329.0,869.2 330.5,868.8 332.0,871.5 333.5,870.4 335.0,870.3 336.5,871.3 338.0,873.3 339.5,876.0 341.0,875.9 342.5,874.9 344.0,875.2 345.5,873.4 347.0,874.3 348.5,875.6 350.0,875.0 351.5,878.2 353.0,878.6 354.5,878.4 356.0,879.6 357.5,880.1 359.0,880.5 360.5,881.4 362.0,883.5 363.5,883.3 365.0,882.8 366.5,882.8 368.0,884.0 369.5,885.1 371.0,886.6 372.5,887.3 374.0,886.2 375.5,888.6 377.0,887.9 378.5,886.7 380.0,887.8 381.5,886.6 383.0,888.8 384.5,890.7 386.0,888.6 387.5,889.1 389.0,891.4 390.5,893.0 392.0,891.4 393.5,891.5 395.0,893.4 396.5,894.7 398.0,893.3 399.5,895.1 401.0,894.5 402.5,893.9 404.0,895.6 405.5,896.1 407.0,895.4 408.5,895.4 410.0,897.9 411.5,894.9 413.0,894.1 414.5,894.4 416.0,894.9 417.5,896.3 419.0,895.5 420.5,894.3 422.0,894.1 423.5,895.1 425.0,896.4 426.5,896.6 428.0,894.2 429.5,893.0 431.0,893.6 432.5,894.9 434.0,895.8 435.5,893.9 437.0,893.6 438.5,892.9 440.0,889.6 441.5,891.9 443.0,892.3 444.5,892.1 446.0,892.3 447.5,891.3 449.0,891.0 450.5,890.0 452.0,886.9 453.5,888.7 455.0,886.8 456.5,884.6 458.0,885.7 459.5,887.7 461.0,887.9 462.5,886.0 464.0,881.8 465.5,885.0 467.0,884.8 468.5,883.4 470.0,882.6 471.5,883.7 473.0,883.8 474.5,884.0 476.0,885.6 477.5,881.2 479.0,880.6 480.5,881.4 482.0,881.6 483.5,878.9 485.0,880.7 486.5,883.6 488.0,884.1 489.5,880.5 491.0,880.1 492.5,880.5 494.0,879.3 495.5,879.9 497.0,879.0 498.5,878.5 500.0,880.4 501.5,877.3 503.0,878.5 504.5,880.1 506.0,878.4 507.5,881.1 509.0,877.9 510.5,874.5 512.0,876.5 513.5,874.5 515.0,874.8 516.5,875.9 518.0,876.5 519.5,874.3 521.0,873.0 522.5,872.1 524.0,871.5 525.5,874.1 527.0,875.8 528.5,876.6 530.0,876.3 531.5,874.6 533.0,873.0 534.5,872.2 536.0,873.0 537.5,871.3 539.0,870.7 540.5,871.9 542.0,875.6 543.5,873.7 545.0,873.7 546.5,874.0 548.0,873.2 549.5,875.5 551.0,876.4 552.5,875.5 554.0,872.4 555.5,873.1 557.0,873.1 558.5,873.8 560.0,876.7 561.5,876.7 563.0,875.3 564.5,875.2 566.0,879.0 567.5,875.8 569.0,873.7 570.5,872.2 572.0,871.1 573.5,873.9 575.0,875.4 576.5,875.5 578.0,874.4 579.5,875.9 581.0,877.3 582.5,877.6 584.0,876.0 585.5,877.5 587.0,878.9 588.5,879.4 590.0,878.0 591.5,876.7 593.0,877.4 594.5,878.7 596.0,879.1 597.5,881.7 599.0,880.4 600.5,877.8 602.0,876.5 603.5,879.6 605.0,880.9 606.5,881.2 608.0,880.8 609.5,883.1 611.0,884.2 612.5,885.5 614.0,887.8 615.5,886.1 617.0,886.4 618.5,888.1 620.0,890.3 621.5,890.8 623.0,893.4 624.5,896.1 626.0,896.7 627.5,897.5 629.0,900.5 630.5,903.2 632.0,903.2 633.5,905.2 635.0,906.2 636.5,906.0 638.0,904.4 639.5,902.9 641.0,900.5 642.5,896.9 644.0,891.8 645.5,889.3 647.0,887.4 648.5,885.6 650.0,882.9 651.5,880.4 653.0,883.2 654.5,885.3 656.0,881.3 657.5,884.6 659.0,886.6 660.5,888.1 662.0,890.0 663.5,887.9 665.0,888.3 666.5,889.4 668.0,889.0 669.5,890.0 671.0,888.5 672.5,886.0 674.0,884.0 675.5,881.9 677.0,881.2 678.5,880.0 680.0,876.5 681.5,875.7 683.0,873.6 684.5,872.5 686.0,874.8 687.5,871.9 689.0,873.0 690.5,874.7 692.0,873.5 693.5,872.0 695.0,871.2 696.5,871.4 698.0,872.9 699.5,873.1 701.0,872.8 702.5,872.5 704.0,872.7 705.5,872.7 707.0,872.6 708.5,872.5 710.0,872.9 711.5,873.3 713.0,874.0 714.5,874.5 716.0,873.9 717.5,872.8 719.0,873.7 720.5,874.9 722.0,874.5 723.5,873.3 725.0,873.6 726.5,873.9 728.0,872.5 729.5,872.3 731.0,872.3 732.5,873.0 734.0,875.1 735.5,873.8 737.0,873.5 738.5,873.5 740.0,873.3 741.5,872.9 743.0,873.3 744.5,873.9 746.0,874.1 747.5,875.2 749.0,873.9 750.5,873.0 752.0,875.1 753.5,874.3 755.0,872.7 756.5,872.0 758.0,874.5 759.5,875.1 761.0,875.0 762.5,874.4 764.0,873.6 765.5,873.6 767.0,872.3 768.5,871.7 770.0,873.8 771.5,873.6 773.0,872.9 774.5,872.6 776.0,873.6 777.5,872.9 779.0,874.4 780.5,875.1 782.0,872.0 783.5,872.3 785.0,871.6 786.5,871.4 788.0,873.0 789.5,873.4 791.0,873.5 792.5,873.3 794.0,872.7 795.5,874.0 797.0,874.1 798.5,874.0 800.0,874.9 801.5,873.7 803.0,872.3 804.5,871.8 806.0,873.3 807.5,872.5 809.0,873.4 810.5,874.0 812.0,872.8 813.5,873.1 815.0,873.3 816.5,873.0 818.0,871.7 819.5,872.7 821.0,873.8 822.5,874.1 824.0,872.8 825.5,873.2 827.0,873.5 828.5,873.5 830.0,872.7 831.5,873.1 833.0,873.6 834.5,873.8 836.0,873.1 837.5,873.5 839.0,873.5 840.5,873.1 842.0,872.3 843.5,872.1 845.0,874.0 846.5,875.8 848.0,875.2 849.5,873.9 851.0,874.1 852.5,874.8 854.0,874.9 855.5,874.8 857.0,874.0 858.5,872.8 860.0,871.9 861.5,872.0 863.0,872.7 864.5,873.8 866.0,875.2 867.5,875.4 869.0,874.4 870.5,873.3 872.0,873.2 873.5,874.6 875.0,875.6 876.5,875.2 878.0,872.5 879.5,873.8 881.0,873.6 882.5,871.6 884.0,869.1 885.5,867.8 887.0,875.6 888.5,882.7 890.0,873.7 891.5,869.5 893.0,878.0 894.5,882.0 896.0,879.5 897.5,876.2 899.0,876.0 900.5,875.9 902.0,875.6 903.5,875.6 905.0,876.7 906.5,877.3 908.0,875.5 909.5,876.0 911.0,876.8 912.5,877.2 914.0,876.2 915.5,875.0 917.0,875.1 918.5,875.7 920.0,875.8 921.5,876.1 923.0,876.1 924.5,876.4 926.0,877.7 927.5,877.5 929.0,877.4 930.5,877.0 932.0,876.3 933.5,877.6 935.0,878.0 936.5,878.4 938.0,879.5 939.5,877.1 941.0,876.6 942.5,877.3 944.0,878.7 945.5,876.6 947.0,876.7 948.5,877.5 950.0,877.5 951.5,877.4 953.0,876.7 954.5,876.5 956.0,877.4 957.5,876.1 959.0,877.2 960.5,878.4 962.0,876.9 963.5,877.5 965.0,877.6 966.5,877.6 968.0,877.8 969.5,877.8 971.0,878.0 972.5,877.9 974.0,877.3 975.5,877.6 977.0,877.1 978.5,876.5 980.0,876.5 981.5,876.8 983.0,876.7 984.5,876.6 986.0,876.3 987.5,877.0 989.0,878.0 990.5,878.7 992.0,878.5 993.5,877.8 995.0,878.1 996.5,878.5 998.0,878.6 999.5,880.7 1001.0,878.9 1002.5,877.0 1004.0,878.6 1005.5,877.3 1007.0,878.4 1008.5,879.5 1010.0,878.3 1011.5,878.9 1013.0,879.0 1014.5,879.0 1016.0,879.5 1017.5,876.3 1019.0,876.4 1020.5,877.8 1022.0,879.0 1023.5,877.7 1025.0,878.5 1026.5,879.9 1028.0,880.5 1029.5,878.3 1031.0,878.1 1032.5,879.0 1034.0,880.0 1035.5,881.1 1037.0,881.0 1038.5,880.4 1040.0,880.2 1041.5,878.9 1043.0,879.0 1044.5,879.6 1046.0,879.7 1047.5,879.1 1049.0,879.5 1050.5,880.0 1052.0,879.4 1053.5,879.3 1055.0,880.8 1056.5,881.7 1058.0,879.7 1059.5,881.6 1061.0,880.9 1062.5,879.7 1064.0,880.0 1065.5,879.0 1067.0,879.1 1068.5,880.2 1070.0,882.2 1071.5,880.8 1073.0,879.2 1074.5,879.1 1076.0,882.2 1077.5,880.2 1079.0,879.8 1080.5,880.3 1082.0,880.7 1083.5,879.1 1085.0,880.6 1086.5,882.7 1088.0,882.5 1089.5,881.1 1091.0,881.1 1092.5,881.4 1094.0,880.9 1095.5,880.7 1097.0,880.9 1098.5,880.8 1100.0,879.8 1101.5,880.8 1103.0,881.1 1104.5,881.8 1106.0,884.1 1107.5,881.1 1109.0,881.8 1110.5,883.3 1112.0,882.9 1113.5,882.5 1115.0,881.9 1116.5,882.2 1118.0,884.5 1119.5,884.2 1121.0,883.3 1122.5,882.4 1124.0,882.4 1125.5,882.8 1127.0,884.0 1128.5,884.2 1130.0,881.9 1131.5,882.8 1133.0,883.9 1134.5,883.9 1136.0,881.7 1137.5,883.0 1139.0,884.2 1140.5,884.6 1142.0,883.4 1143.5,883.8 1145.0,883.2 1146.5,883.1 1148.0,885.0 1149.5,883.8 1151.0,884.1 1152.5,885.0 1154.0,885.8 1155.5,885.3 1157.0,886.1 1158.5,887.2 1160.0,887.6 1161.5,888.6 1163.0,890.4 1164.5,891.5 1166.0,890.7 1167.5,888.0 1169.0,887.5 1170.5,887.7 1172.0,886.9 1173.5,886.4 1175.0,887.5 1176.0,888.8 1176.5,889.9 1177.0,890.9 1177.5,891.9 1178.0,892.9 1178.5,893.2 1179.0,893.4 1179.5,893.6 1180.0,893.7 1180.5,894.0 1181.0,894.2 1181.5,894.5 1182.0,894.8 1182.5,895.0 1183.0,895.2 1183.5,895.3 1184.0,895.5 1184.5,896.2 1185.0,896.8 1185.5,897.5 1186.0,898.1 1186.5,897.8 1187.0,897.4 1187.5,897.0 1188.0,896.7 1188.5,896.5 1189.0,896.3 1189.5,896.2 1190.0,896.1 1190.5,896.7 1191.0,897.3 1191.5,898.0 1192.0,898.6 1192.5,898.7 1193.0,898.8 1193.5,899.0 1194.0,899.1 1194.5,899.3 1195.0,899.5 1195.5,899.8 1196.0,900.0 1196.5,900.7 1197.0,901.5 1197.5,902.2 1198.0,902.9 1198.5,903.2 1199.0,903.6 1199.5,903.9 1200.0,904.2 1200.5,904.9 1201.0,905.6 1201.5,906.3 1202.0,907.0 1202.5,907.2 1203.0,907.4 1203.5,907.6 1204.0,907.9 1204.5,908.6 1205.0,909.2 1205.5,909.9 1206.0,910.6 1206.5,910.9 1207.0,911.3 1207.5,911.6 1208.0,911.9 1208.5,912.0 1209.0,912.1 1209.5,912.2 1210.0,912.3 1210.5,912.6 1211.0,913.0 1211.5,913.4 1212.0,913.7 1212.5,914.2 1213.0,914.6 1213.5,915.1 1214.0,915.6 1214.5,915.8 1215.0,916.0 1215.5,916.3 1216.0,916.6 1216.5,916.7 1217.0,917.0 1217.5,917.3 1218.0,918.2 1218.5,920.6 1219.0,923.8 1219.5,927.5 1220.0,931.5 1220.5,935.2 1221.0,938.8 1221.5,941.9 1222.0,944.7 1222.5,947.6 1223.0,950.8 1223.5,954.0 1224.0,957.2 1224.5,959.9 1225.0,962.6 1225.5,965.1 1226.0,967.5 1226.5,970.0 1227.0,972.3 1227.5,974.2 1228.0,975.6 1228.5,976.2 1229.0,976.3 1229.5,975.5 1230.0,973.9 1230.5,971.7 1231.0,968.8 1231.5,965.4 1232.0,961.6 1232.5,957.4 1233.0,953.2 1233.5,948.9 1234.0,944.7 1234.5,940.9 1235.0,937.5 1235.5,934.6 1236.0,932.4 1236.5,930.5 1237.0,928.6 1237.5,926.8 1238.0,925.0 1238.5,923.4 1239.0,921.8 1239.5,920.3 1240.0,918.9 1240.5,917.2 1241.0,915.7 1241.5,914.3 1242.0,912.9 1242.5,911.9 1243.0,910.9 1243.5,910.1 1244.0,909.4 1244.5,909.0 1245.0,908.8 1245.5,908.6 1246.0,908.4 1246.5,908.0 1247.0,907.7 1247.5,907.4 1248.0,907.1 1248.5,906.7 1249.0,906.3 1249.5,905.9 1250.0,905.5 1250.5,905.4 1251.0,905.3 1251.5,905.2 1252.0,905.1 1252.5,904.9 1253.0,904.7 1253.5,904.5 1254.0,904.3 1254.5,904.4 1255.0,904.5 1255.5,904.6 1256.0,904.7 1256.5,904.0 1257.0,903.4 1257.5,902.8 1258.0,902.2 1258.5,902.8 1259.0,903.4 1259.5,904.0 1260.0,904.6 1260.5,904.0 1261.0,903.3 1261.5,902.7 1262.0,902.1 1262.5,902.4 1263.0,902.7 1263.5,903.1 1264.0,903.4 1264.5,904.1 1265.0,904.7 1265.5,905.4 1266.0,906.1 1266.5,906.3 1267.0,906.5 1267.5,906.7 1268.0,907.0 1268.5,907.6 1269.0,908.2 1269.5,908.8 1270.0,909.4 1270.5,910.0 1271.0,910.5 1271.5,911.0 1272.0,911.6 1272.5,912.3 1273.0,913.0 1273.5,914.0 1274.0,915.1 1274.5,916.5 1275.0,918.1 1275.5,919.8 1276.0,921.8 1276.5,924.1 1277.0,926.6 1277.5,929.2 1278.0,932.1 1278.5,936.0 1279.0,941.6 1279.5,948.6 1280.0,956.4 1280.5,964.5 1281.0,972.6 1281.5,980.2 1282.0,987.0 1282.5,993.3 1283.0,1000.2 1283.5,1007.3 1284.0,1014.6 1284.5,1021.8 1285.0,1028.7 1285.5,1035.3 1286.0,1041.2 1286.5,1046.6 1287.0,1051.1 1287.5,1054.4 1288.0,1056.4 1288.5,1056.0 1289.0,1054.5 1289.5,1052.0 1290.0,1048.7 1290.5,1045.8 1291.0,1042.4 1291.5,1038.6 1292.0,1034.7 1292.5,1030.7 1293.0,1026.7 1293.5,1023.1 1294.0,1019.8 1294.5,1017.1 1295.0,1014.8 1295.5,1012.5 1296.0,1010.2 1296.5,1007.9 1297.0,1005.6 1297.5,1003.4 1298.0,1001.3 1298.5,999.5 1299.0,997.8 1299.5,996.4 1300.0,995.2 1300.5,994.2 1301.0,993.4 1301.5,992.8 1302.0,992.3 1302.5,991.8 1303.0,991.3 1303.5,990.9 1304.0,990.5 1304.5,989.8 1305.0,989.2 1305.5,988.6 1306.0,987.9 1306.5,987.9 1307.0,987.9 1307.5,987.7 1308.0,987.5 1308.5,987.0 1309.0,986.3 1309.5,984.1 1310.0,979.5 1310.5,973.6 1311.0,966.7 1311.5,959.5 1312.0,952.8 1312.5,946.6 1313.0,942.2 1313.5,940.3 1314.0,938.9 1314.5,938.1 1315.0,937.3 1315.5,936.8 1316.0,936.4 1316.5,936.5 1317.0,938.8 1317.5,944.5 1318.0,952.6 1318.5,961.5 1319.0,970.4 1319.5,978.4 1320.0,984.2 1320.5,987.3 1321.0,986.0 1321.5,981.0 1322.0,973.8 1322.5,966.3 1323.0,960.2 1323.5,957.2 1324.0,956.5 1324.5,955.7 1325.0,955.1 1325.5,954.7 1326.0,954.3 1326.5,954.1 1327.0,953.9 1327.5,953.6 1328.0,953.2 1328.5,952.3 1329.0,951.2 1329.5,947.8 1330.0,941.2 1330.5,933.2 1331.0,925.0 1331.5,918.4 1332.0,914.8 1332.5,913.4 1333.0,912.1 1333.5,910.8 1334.0,909.7 1334.5,908.6 1335.0,907.7 1335.5,906.8 1336.0,906.0 1336.5,904.7 1337.0,903.5 1337.5,902.4 1338.0,901.4 1338.5,900.6 1339.0,899.9 1339.5,899.3 1340.0,898.8 1340.5,898.4 1341.0,898.1 1341.5,897.8 1342.0,897.6 1342.5,897.7 1343.0,897.9 1343.5,898.1 1344.0,898.4 1344.5,898.2 1345.0,898.0 1345.5,898.0 1346.0,898.0 1346.5,898.8 1347.0,899.6 1347.5,900.5 1348.0,901.5 1348.5,902.2 1349.0,902.9 1349.5,903.7 1350.0,904.6 1350.5,905.6 1351.0,906.8 1351.5,908.0 1352.0,909.2 1352.5,910.2 1353.0,911.3 1353.5,912.7 1354.0,914.4 1354.5,916.8 1355.0,919.6 1355.5,922.7 1356.0,926.3 1356.5,930.2 1357.0,934.4 1357.5,938.9 1358.0,943.8 1358.5,948.4 1359.0,953.2 1359.5,960.6 1360.0,971.4 1360.5,984.1 1361.0,996.6 1361.5,1007.0 1362.0,1013.3 1362.5,1013.9 1363.0,1010.8 1363.5,1005.2 1364.0,997.6 1364.5,989.6 1365.0,980.7 1365.5,971.7 1366.0,963.0 1366.5,954.5 1367.0,947.5 1367.5,942.6 1368.0,939.0 1368.5,935.8 1369.0,932.7 1369.5,929.7 1370.0,926.9 1370.5,924.0 1371.0,921.3 1371.5,918.8 1372.0,916.6 1372.5,914.6 1373.0,912.9 1373.5,911.5 1374.0,910.5 1374.5,910.0 1375.0,910.0 1375.5,910.0 1376.0,910.2 1376.5,910.2 1377.0,910.2 1377.5,910.3 1378.0,910.5 1378.5,911.3 1379.0,912.2 1379.5,913.2 1380.0,914.2 1380.5,914.4 1381.0,914.7 1381.5,915.0 1382.0,915.3 1382.5,915.8 1383.0,916.3 1383.5,916.9 1384.0,917.5 1384.5,918.3 1385.0,919.3 1385.5,920.6 1386.0,922.1 1386.5,923.7 1387.0,925.5 1387.5,927.4 1388.0,929.4 1388.5,931.4 1389.0,933.4 1389.5,935.5 1390.0,937.5 1390.5,939.7 1391.0,942.1 1391.5,944.8 1392.0,947.7 1392.5,951.0 1393.0,954.6 1393.5,958.2 1394.0,961.9 1394.5,964.6 1395.0,967.3 1395.5,969.9 1396.0,972.3 1396.5,975.7 1397.0,978.8 1397.5,981.6 1398.0,984.2 1398.5,985.8 1399.0,987.1 1399.5,988.1 1400.0,988.9 1400.5,989.8 1401.0,990.6 1401.5,991.4 1402.0,992.1 1402.5,992.4 1403.0,992.8 1403.5,993.4 1404.0,994.2 1404.5,996.1 1405.0,999.0 1405.5,1004.3 1406.0,1011.4 1406.5,1019.9 1407.0,1029.0 1407.5,1038.4 1408.0,1047.3 1408.5,1054.9 1409.0,1062.8 1409.5,1071.0 1410.0,1079.3 1410.5,1088.1 1411.0,1096.6 1411.5,1104.7 1412.0,1112.8 1412.5,1120.3 1413.0,1127.4 1413.5,1133.8 1414.0,1139.4 1414.5,1144.9 1415.0,1150.6 1415.5,1155.3 1416.0,1158.3 1416.5,1158.5 1417.0,1157.9 1417.5,1157.0 1418.0,1155.8 1418.5,1154.8 1419.0,1153.9 1419.5,1153.1 1420.0,1152.5 1420.5,1151.8 1421.0,1151.3 1421.5,1150.7 1422.0,1150.2 1422.5,1150.0 1423.0,1149.6 1423.5,1148.6 1424.0,1146.8 1424.5,1143.5 1425.0,1139.5 1425.5,1133.3 1426.0,1124.1 1426.5,1114.1 1427.0,1103.6 1427.5,1093.3 1428.0,1081.5 1428.5,1068.8 1429.0,1057.2 1429.5,1048.2 1430.0,1040.5 1430.5,1033.5 1431.0,1027.0 1431.5,1020.9 1432.0,1015.4 1432.5,1010.7 1433.0,1006.5 1433.5,1002.8 1434.0,999.6 1434.5,996.2 1435.0,993.1 1435.5,990.2 1436.0,987.5 1436.5,985.2 1437.0,983.1 1437.5,981.3 1438.0,979.5 1438.5,978.2 1439.0,977.1 1439.5,976.1 1440.0,975.3 1440.5,974.5 1441.0,973.6 1441.5,972.5 1442.0,971.3 1442.5,969.4 1443.0,966.7 1443.5,963.2 1444.0,959.0 1444.5,955.0 1445.0,950.7 1445.5,946.4 1446.0,942.2 1446.5,937.7 1447.0,933.7 1447.5,930.5 1448.0,928.1 1448.5,926.5 1449.0,924.9 1449.5,923.3 1450.0,921.8 1450.5,920.4 1451.0,919.0 1451.5,917.7 1452.0,916.5 1452.5,915.4 1453.0,914.5 1453.5,913.6 1454.0,912.8 1454.5,912.1 1455.0,911.5 1455.5,911.0 1456.0,910.5 1456.5,910.2 1457.0,909.9 1457.5,909.8 1458.0,909.7 1458.5,909.6 1459.0,909.9 1459.5,910.8 1460.0,912.1 1460.5,913.9 1461.0,916.0 1461.5,918.5 1462.0,921.2 1462.5,924.4 1463.0,927.8 1463.5,933.4 1464.0,942.9 1464.5,954.6 1465.0,968.0 1465.5,982.1 1466.0,995.8 1466.5,1009.2 1467.0,1020.1 1467.5,1027.7 1468.0,1030.8 1468.5,1028.9 1469.0,1024.0 1469.5,1016.6 1470.0,1007.4 1470.5,997.1 1471.0,986.5 1471.5,976.2 1472.0,966.9 1472.5,959.7 1473.0,955.0 1473.5,953.3 1474.0,953.8 1474.5,954.3 1475.0,955.4 1475.5,956.9 1476.0,958.8 1476.5,961.9 1477.0,965.3 1477.5,969.0 1478.0,972.8 1478.5,976.1 1479.0,979.5 1479.5,982.9 1480.0,986.4 1480.5,990.2 1481.0,994.2 1481.5,999.4 1482.0,1005.7 1482.5,1013.5 1483.0,1022.0 1483.5,1030.9 1484.0,1040.1 1484.5,1048.5 1485.0,1056.6 1485.5,1064.5 1486.0,1071.7 1486.5,1078.9 1487.0,1085.1 1487.5,1090.1 1488.0,1093.6 1488.5,1095.1 1489.0,1094.7 1489.5,1093.0 1490.0,1090.1 1490.5,1086.4 1491.0,1081.8 1491.5,1076.5 1492.0,1070.6 1492.5,1064.4 1493.0,1057.9 1493.5,1051.4 1494.0,1045.0 1494.5,1038.7 1495.0,1032.9 1495.5,1026.9 1496.0,1020.2 1496.5,1013.4 1497.0,1006.3 1497.5,999.0 1498.0,991.6 1498.5,984.1 1499.0,976.9 1499.5,970.2 1500.0,964.3 1500.5,959.1 1501.0,955.0 1501.5,952.1 1502.0,949.9 1502.5,948.7 1503.0,947.5 1503.5,946.4 1504.0,945.5 1504.5,943.7 1505.0,942.1 1505.5,940.6 1506.0,939.3 1506.5,938.6 1507.0,938.0 1507.5,937.7 1508.0,937.6 1508.5,938.4 1509.0,940.5 1509.5,943.6 1510.0,947.7 1510.5,952.1 1511.0,957.1 1511.5,962.4 1512.0,967.9 1512.5,973.9 1513.0,979.8 1513.5,985.2 1514.0,990.1 1514.5,993.3 1515.0,995.6 1515.5,996.7 1516.0,996.4 1516.5,994.2 1517.0,990.1 1517.5,984.5 1518.0,977.6 1518.5,970.5 1519.0,962.9 1519.5,955.3 1520.0,948.1 1520.5,940.8 1521.0,934.8 1521.5,930.2 1522.0,927.5 1522.5,926.4 1523.0,925.4 1523.5,924.4 1524.0,923.5 1524.5,922.3 1525.0,921.1 1525.5,920.1 1526.0,919.0 1526.5,918.3 1527.0,917.7 1527.5,917.1 1528.0,916.5 1528.5,916.0 1529.0,915.5 1529.5,915.0 1530.0,914.6 1530.5,913.7 1531.0,912.9 1531.5,912.1 1532.0,911.3 1532.5,911.5 1533.0,911.7 1533.5,911.9 1534.0,912.2 1534.5,912.0 1535.0,911.8 1535.5,911.7 1536.0,911.6 1536.5,912.0 1537.0,912.4 1537.5,912.8 1538.0,913.2 1538.5,913.4 1539.0,913.6 1539.5,913.8 1540.0,914.0 1540.5,913.8 1541.0,913.6 1541.5,913.5 1542.0,913.3 1542.5,913.5 1543.0,913.6 1543.5,913.8 1544.0,914.0 1544.5,914.2 1545.0,914.5 1545.5,914.7 1546.0,915.0 1546.5,915.2 1547.0,915.5 1547.5,915.7 1548.0,916.0 1548.5,916.1 1549.0,916.5 1549.5,917.2 1550.0,918.1 1550.5,919.7 1551.0,921.6 1551.5,923.6 1552.0,925.7 1552.5,928.1 1553.0,930.6 1553.5,933.1 1554.0,935.7 1554.5,938.6 1555.0,942.3 1555.5,947.0 1556.0,952.3 1556.5,958.6 1557.0,965.3 1557.5,972.4 1558.0,979.6 1558.5,986.9 1559.0,994.2 1559.5,1001.3 1560.0,1008.1 1560.5,1014.3 1561.0,1020.0 1561.5,1025.0 1562.0,1029.3 1562.5,1033.1 1563.0,1035.8 1563.5,1037.4 1564.0,1037.7 1564.5,1036.2 1565.0,1033.0 1565.5,1028.5 1566.0,1023.0 1566.5,1016.4 1567.0,1009.3 1567.5,1002.1 1568.0,995.1 1568.5,988.9 1569.0,983.6 1569.5,979.2 1570.0,976.3 1570.5,974.2 1571.0,972.2 1571.5,970.4 1572.0,968.8 1572.5,967.3 1573.0,966.0 1573.5,964.7 1574.0,963.6 1574.5,962.4 1575.0,961.2 1575.5,960.0 1576.0,958.8 1576.5,957.6 1577.0,956.3 1577.5,954.9 1578.0,953.5 1578.5,952.6 1579.0,951.6 1579.5,950.6 1580.0,949.6 1580.5,948.6 1581.0,947.5 1581.5,946.6 1582.0,945.7 1582.5,944.6 1583.0,943.7 1583.5,942.9 1584.0,942.3 1584.5,942.0 1585.0,941.9 1585.5,941.7 1586.0,941.6 1586.5,941.1 1587.0,940.7 1587.5,940.3 1588.0,939.9 1588.5,939.9 1589.0,940.0 1589.5,940.1 1590.0,940.1 1590.5,940.1 1591.0,940.1 1591.5,940.1 1592.0,940.1 1592.5,939.9 1593.0,939.7 1593.5,939.6 1594.0,939.4 1594.5,939.4 1595.0,939.3 1595.5,939.3 1596.0,939.3 1596.5,939.1 1597.0,938.8 1597.5,938.6 1598.0,938.4 1598.5,938.3 1599.0,938.2 1599.5,938.2 1600.0,938.1 1600.5,938.3 1601.0,938.6 1601.5,939.3 1602.0,940.2 1602.5,941.4 1603.0,942.8 1603.5,944.3 1604.0,945.9 1604.5,947.0 1605.0,948.0 1605.5,949.0 1606.0,949.9 1606.5,950.8 1607.0,951.5 1607.5,952.0 1608.0,952.3 1608.5,952.6 1609.0,952.7 1609.5,952.6 1610.0,952.4 1610.5,952.1 1611.0,951.7 1611.5,951.2 1612.0,950.7 1612.5,950.3 1613.0,950.0 1613.5,949.6 1614.0,949.3 1614.5,948.8 1615.0,948.4 1615.5,948.0 1616.0,947.8 1616.5,947.4 1617.0,947.1 1617.5,946.8 1618.0,946.6 1618.5,946.7 1619.0,946.9 1619.5,947.1 1620.0,947.3 1620.5,947.7 1621.0,948.2 1621.5,948.7 1622.0,949.3 1622.5,949.8 1623.0,950.4 1623.5,951.0 1624.0,951.7 1624.5,952.2 1625.0,952.8 1625.5,953.4 1626.0,954.1 1626.5,955.3 1627.0,956.6 1627.5,957.9 1628.0,959.9 1628.5,963.9 1629.0,969.7 1629.5,976.1 1630.0,982.0 1630.5,986.6 1631.0,988.5 1631.5,988.4 1632.0,988.0 1632.5,987.1 1633.0,986.0 1633.5,984.9 1634.0,983.8 1634.5,983.0 1635.0,982.5 1635.5,982.3 1636.0,982.6 1636.5,984.2 1637.0,987.1 1637.5,991.1 1638.0,996.0 1638.5,1001.8 1639.0,1008.1 1639.5,1014.6 1640.0,1021.2 1640.5,1027.8 1641.0,1034.0 1641.5,1039.6 1642.0,1044.5 1642.5,1048.0 1643.0,1050.4 1643.5,1051.3 1644.0,1050.7 1644.5,1049.1 1645.0,1046.3 1645.5,1042.7 1646.0,1038.4 1646.5,1033.0 1647.0,1027.4 1647.5,1021.8 1648.0,1016.6 1648.5,1012.5 1649.0,1009.2 1649.5,1006.9 1650.0,1005.8 1650.5,1005.2 1651.0,1004.6 1651.5,1004.1 1652.0,1003.6 1652.5,1003.3 1653.0,1003.0 1653.5,1002.7 1654.0,1002.5 1654.5,1002.5 1655.0,1002.6 1655.5,1002.6 1656.0,1002.6 1656.5,1002.7 1657.0,1002.8 1657.5,1002.8 1658.0,1002.7 1658.5,1001.8 1659.0,1000.7 1659.5,999.5 1660.0,998.1 1660.5,997.0 1661.0,995.9 1661.5,994.8 1662.0,993.8 1662.5,992.2 1663.0,990.8 1663.5,989.7 1664.0,988.8 1664.5,989.0 1665.0,989.6 1665.5,990.4 1666.0,991.6 1666.5,992.3 1667.0,993.3 1667.5,994.6 1668.0,996.1 1668.5,998.3 1669.0,1000.7 1669.5,1003.3 1670.0,1006.1 1670.5,1009.0 1671.0,1012.0 1671.5,1015.3 1672.0,1018.7"/>
</g>
<!-- curve labels -->
<text transform="translate(175.88,364.00) scale(0.9400,1)" font-size="61">ZIF-8</text><text transform="translate(175.83,549.40) scale(0.9400,1)" font-size="61">PPO</text><text transform="translate(177.28,743.70) scale(0.9400,1)" font-size="61">SPPO</text><text transform="translate(176.28,959.75) scale(0.9400,1)" font-size="61">SPPO-ZIF-8</text>
<!-- frame -->
<rect x="150" y="25" width="1534" height="15" fill="#000"/>
<rect x="150" y="1171" width="1534" height="15" fill="#000"/>
<rect x="150" y="25" width="14" height="1161" fill="#000"/>
<rect x="1670" y="25" width="14" height="1161" fill="#000"/>
<rect x="373.5" y="1149" width="14.5" height="24" fill="#000"/><rect x="597.0" y="1149" width="14.5" height="24" fill="#000"/><rect x="820.5" y="1149" width="14.5" height="24" fill="#000"/><rect x="1044.0" y="1149" width="14.5" height="24" fill="#000"/><rect x="1267.5" y="1149" width="14.5" height="24" fill="#000"/><rect x="1491.0" y="1149" width="14.5" height="24" fill="#000"/>
<text transform="translate(76.01,1261.00) scale(0.9450,1)" font-size="78">4000</text><text transform="translate(299.23,1261.00) scale(0.9450,1)" font-size="78">3500</text><text transform="translate(522.73,1261.00) scale(0.9450,1)" font-size="78">3000</text><text transform="translate(745.77,1261.00) scale(0.9450,1)" font-size="78">2500</text><text transform="translate(969.27,1261.00) scale(0.9450,1)" font-size="78">2000</text><text transform="translate(1191.76,1261.00) scale(0.9450,1)" font-size="78">1500</text><text transform="translate(1415.26,1261.00) scale(0.9450,1)" font-size="78">1000</text>
<text transform="translate(520.79,1399.00) scale(0.9500,1)" font-size="89.75">Wavenumber (cm</text><text transform="translate(1225.30,1361.19) scale(1.0000,1)" font-size="54" style="font-weight:normal">&#8722;</text><text transform="translate(1255.57,1357.00) scale(1.0000,1)" font-size="54">1</text><text transform="translate(1286.79,1399.00) scale(0.9500,1)" font-size="89.75">)</text>
<text transform="translate(102,1017.66) rotate(-90) scale(0.9702,1)" font-size="89">Transmittance (a.u)</text>
</svg>
</body></html>
